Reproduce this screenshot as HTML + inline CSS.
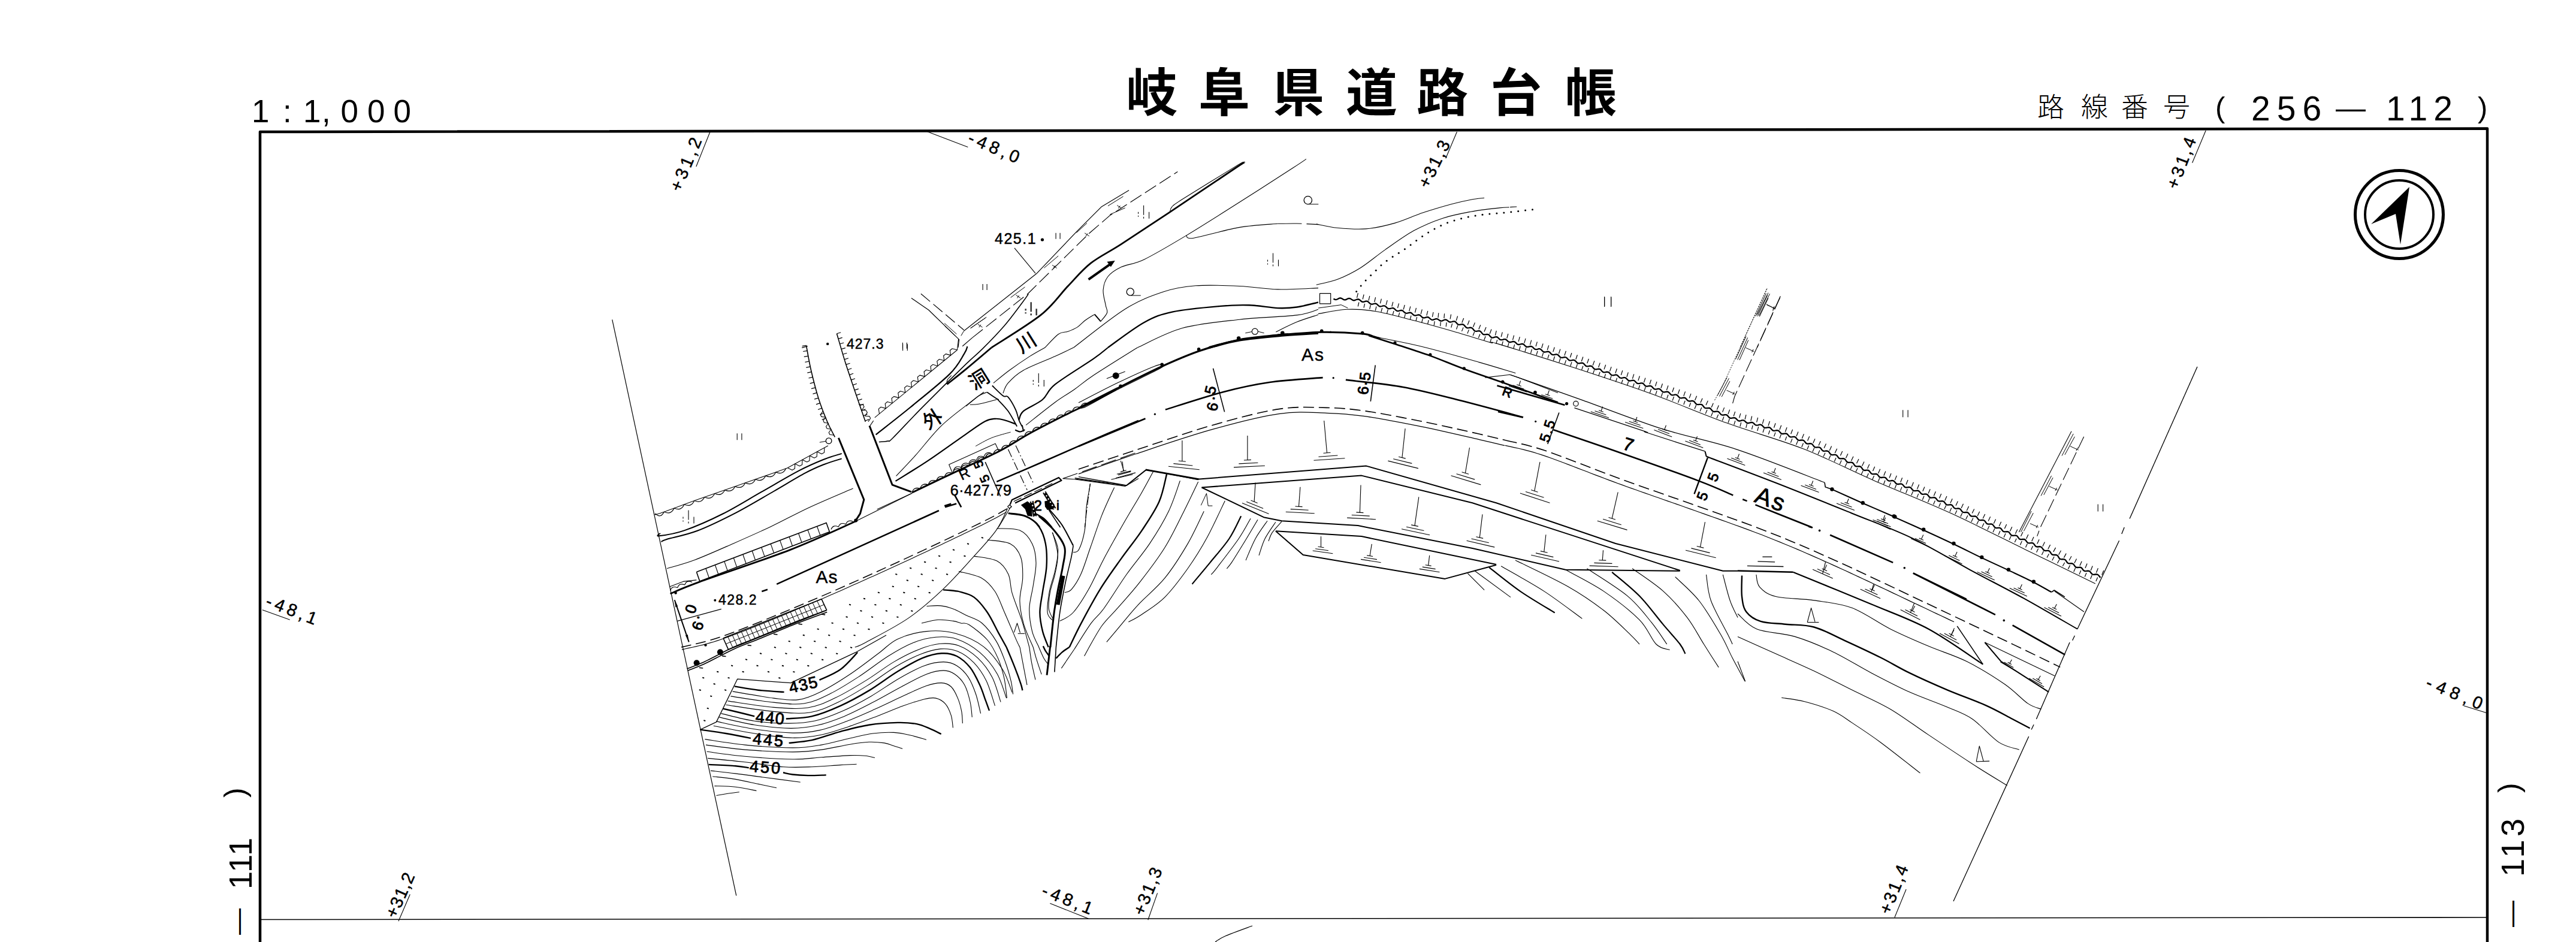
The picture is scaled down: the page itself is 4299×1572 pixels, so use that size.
<!DOCTYPE html>
<html lang="ja"><head><meta charset="utf-8"><title>岐阜県道路台帳</title>
<style>
html,body{margin:0;padding:0;background:#fff}
body{width:4299px;height:1572px;overflow:hidden}
svg{display:block}
svg path,svg circle{vector-effect:none}
text{font-family:"Liberation Sans","Noto Sans CJK JP",sans-serif;fill:#000}
</style></head><body>
<svg width="4299" height="1572" viewBox="0 0 4299 1572" fill="none" stroke="#000" stroke-width="1.3" stroke-linejoin="round">
<path d="M434 1572 L434 220 L4151 214.5 L4151 1572" stroke-width="4.5"/>
<path d="M436 1534.5 L4149 1531" stroke-width="1.6"/>
<text x="420 472 506 537 568.5 613 656.5" y="204" font-size="53" stroke="none">1:1,000</text>
<text x="1879 2000 2124 2246 2364 2487 2612" y="186" font-size="86" font-weight="bold" stroke="none">岐阜県道路台帳</text>
<text x="3400 3473 3540 3610" y="195" font-size="45" font-weight="300" stroke="none">路線番号</text>
<text x="3697" y="196" font-size="49" stroke="none">(</text>
<text x="3757" y="201" font-size="57" letter-spacing="11" stroke="none">256</text>
<text x="3898" y="197" font-size="50" stroke="none">—</text>
<text x="3982" y="201" font-size="57" letter-spacing="10" stroke="none">112</text>
<text x="4135" y="196" font-size="49" stroke="none">)</text>
<text x="412" y="1560" font-size="44" transform="rotate(-90 412 1560)" stroke="none">—</text>
<text x="420" y="1484" font-size="54" letter-spacing="2" transform="rotate(-90 420 1484)" stroke="none">111</text>
<text x="409" y="1331" font-size="50" transform="rotate(-90 409 1331)" stroke="none">)</text>
<text x="4206" y="1547" font-size="44" transform="rotate(-90 4206 1547)" stroke="none">—</text>
<text x="4212" y="1463" font-size="54" letter-spacing="5.5" transform="rotate(-90 4212 1463)" stroke="none">113</text>
<text x="4203.5" y="1323" font-size="50" transform="rotate(-90 4203.5 1323)" stroke="none">)</text>
<circle cx="4004" cy="358" r="73.5" stroke-width="5" fill="none"/>
<circle cx="4004" cy="358" r="57" stroke-width="4" fill="none"/>
<path d="M4021 312 L3957 374 L3998 357 L4006 408Z" fill="#000" stroke="none"/>
<path d="M2028 1572 C2030.8 1570.3 2034.7 1566.5 2045 1562 C2055.3 1557.5 2082.5 1547.8 2090 1545" stroke-width="1.2"/>
<path d="M1608.6 552.3 L1729.6 456.8 L1798.1 385.1 L1837.9 345.3 L1884.1 317.6" stroke-width="1.2"/>
<path d="M1619.7 547.5 L1645.2 530" stroke-width="1"/>
<path d="M1686.6 496.6 L1710.5 479" stroke-width="1"/>
<path d="M1742.4 447.2 L1766.2 427.1" stroke-width="1"/>
<path d="M1796.5 388.3 L1814 372.4" stroke-width="1"/>
<path d="M1849 343.7 L1874.5 327.8" stroke-width="1"/>
<path d="M1622.9 563.4 L1715.3 490.2 L1817.2 389.9 L1852.2 359.6 L1965.3 286.4" stroke-width="1.2" stroke-dasharray="22 7"/>
<path d="M1852.2 358 L1877.7 346.9" stroke-width="1"/>
<path d="M1631.8 541.1 L1639.5 546.2" stroke-width="1"/>
<path d="M1633.8 546.2 L1636.9 541.8" stroke-width="1"/>
<path d="M1695.5 492.4 L1703.2 497.5" stroke-width="1"/>
<path d="M1697.5 497.5 L1700.6 493.1" stroke-width="1"/>
<path d="M1756.1 442.4 L1763.7 447.5" stroke-width="1"/>
<path d="M1758 447.5 L1761.1 443.1" stroke-width="1"/>
<path d="M1810.2 388.9 L1817.8 394" stroke-width="1"/>
<path d="M1812.1 394 L1815.3 389.6" stroke-width="1"/>
<path d="M1864.3 342.7 L1872 347.8" stroke-width="1"/>
<path d="M1866.2 347.8 L1869.4 343.4" stroke-width="1"/>
<path d="M1521 497.5 L1549.7 517.3 L1600.6 566.6 L1599 580" stroke-width="1.2"/>
<path d="M1536.9 490.2 L1608.6 550.7" stroke-width="1.2" stroke-dasharray="20 7"/>
<path d="M1576.8 544.3 L1594.3 560.3" stroke-width="1"/>
<path d="M1608.6 552.3 L1603.8 560.3" stroke-width="1"/>
<path d="M1654.8 580 C1668.6 570.9 1716.3 542.3 1737.6 525.2 C1758.8 508.1 1768.4 491.8 1782.2 477.5 C1796 463.1 1805.5 450.9 1820.4 439.2 C1835.2 427.6 1849.6 421.5 1871.3 407.4 C1893.1 393.3 1919.1 376.1 1951 354.8 C1982.8 333.6 2041.5 294 2062.4 280 C2083.4 266 2074.4 272.6 2076.8 271.1" stroke-width="2.8"/>
<path d="M1952.5 353.9 C1953.1 352.5 1952.3 348.8 1955.7 345.3 C1959.2 341.7 1955.7 343.7 1973.2 332.5 C1990.8 321.4 2043.9 288.8 2060.8 278.4 C2077.7 268.1 2072.2 271.8 2074.5 270.4" stroke-width="1.1"/>
<path d="M1816.6 466.3 L1853.8 440.2" stroke-width="4"/>
<path d="M1860.8 435.1 L1847.5 436.7 L1853.8 445.6Z" fill="#000" stroke="none"/>
<path d="M2179.9 265.4 C2176.3 267.8 2176.5 268 2158 280 C2139.4 292 2098.5 318.5 2068.8 337.3 C2039.1 356.2 2006.2 377.1 1979.6 393.1 C1953.1 409 1927.6 424.1 1909.6 432.9 C1891.5 441.6 1881.4 440.8 1871.3 445.6 C1861.3 450.4 1854.1 455.2 1849 461.5 C1844 467.9 1841.7 475.9 1841.1 483.8 C1840.4 491.8 1844.2 502.9 1845.2 509.3 C1846.3 515.7 1848.8 517.5 1847.5 522 C1846.1 526.5 1838.7 534 1836.9 536.4" stroke-width="1.1"/>
<path d="M1836.9 536.4 L1826.8 524.6" stroke-width="2"/>
<path d="M1826.8 524.6 C1824.1 526.3 1815.6 531.2 1810.8 534.8 C1806.1 538.3 1802.9 542.8 1798.1 545.9 C1793.3 549 1787.5 551.3 1782.2 553.2 C1776.9 555.2 1772.6 553.2 1766.2 557.7 C1759.9 562.2 1747.7 576.3 1743.9 580" stroke-width="1.1"/>
<path d="M1979.6 393.1 C1981.7 393.7 1977.5 399.5 1992.4 397.2 C2007.2 394.9 2045.4 383.3 2068.8 379.4 C2092.1 375.4 2121.9 374.3 2132.5 373.3" stroke-width="1.1"/>
<path d="M2132.5 373.3 C2137.8 373.3 2153.1 372.8 2164.3 373 C2175.6 373.2 2194.1 374.3 2200 374.6" stroke-width="1.1" stroke-dasharray="40 8"/>
<path d="M1791.7 580 C1806.1 569.3 1852.8 531.2 1877.7 515.7 C1902.7 500.2 1921.8 493.5 1941.4 487 C1961 480.5 1974.3 478.4 1995.5 476.8 C2016.8 475.2 2046 476.4 2068.8 477.5 C2091.6 478.5 2110.6 482.3 2132.5 482.9 C2154.4 483.4 2188.7 481 2200 480.6" stroke-width="1.1"/>
<path d="M1849 580 C1859.1 573 1891.5 547.9 1909.6 538 C1927.6 528 1936.1 525 1957.3 520.4 C1978.6 515.9 2015.7 512.7 2036.9 510.9 C2058.2 509 2068.8 508.8 2084.7 509.3 C2100.6 509.8 2119.2 513.5 2132.5 514.1 C2145.8 514.6 2153.1 514.1 2164.3 512.5 C2175.6 510.9 2194.1 505.8 2200 504.5" stroke-width="2.4"/>
<path d="M1898.4 580 C1910.9 574.6 1944.9 555.3 1973.2 547.5 C2001.6 539.7 2036.9 536.8 2068.8 533.2 C2100.6 529.6 2142.5 528.7 2164.3 525.9 C2186.2 523 2194.1 517.9 2200 516.3" stroke-width="1.1"/>
<path d="M2017.8 580 C2026.3 577.9 2048.1 571 2068.8 567.6 C2089.5 564.2 2120.2 561.6 2142 559.6 C2163.9 557.7 2190.3 556.4 2200 555.8" stroke-width="4"/>
<circle cx="2067.2" cy="564.4" r="3.2" fill="#000" stroke="none"/>
<circle cx="2140.4" cy="555.8" r="3.2" fill="#000" stroke="none"/>
<path d="M2129.3 553.9 C2135.1 551.1 2152.5 542.1 2164.3 537.3 C2176.1 532.5 2194.1 527.2 2200 525.2" stroke-width="1.1"/>
<circle cx="2182.8" cy="334.1" r="6.7" stroke-width="1.3" fill="none"/>
<path d="M2184.4 340.8 L2200.3 340.8" stroke-width="1"/>
<circle cx="1886.3" cy="487" r="6.1" stroke-width="1.3" fill="none"/>
<path d="M1887.9 493.1 L1903.8 493.1" stroke-width="1"/>
<circle cx="2094.3" cy="553.2" r="5" stroke-width="1.2" fill="none"/>
<path d="M2078.3 555.8 L2088.9 553.6" stroke-width="1"/>
<path d="M2099.7 553.2 L2109.6 555.8" stroke-width="1"/>
<path d="M1908.6 342.8 L1908.6 358.8" stroke-width="1.1"/>
<path d="M1899.6 353.8 L1899.6 361.8" stroke-width="1.1" stroke-dasharray="3 3"/>
<path d="M1917.6 353.8 L1917.6 364.8" stroke-width="1.1"/>
<path d="M1908.6 361.8 L1908.6 364.8" stroke-width="1.1"/>
<path d="M2124.5 422.4 L2124.5 438.4" stroke-width="1.1"/>
<path d="M2115.5 433.4 L2115.5 441.4" stroke-width="1.1" stroke-dasharray="3 3"/>
<path d="M2133.5 433.4 L2133.5 444.4" stroke-width="1.1"/>
<path d="M2124.5 441.4 L2124.5 444.4" stroke-width="1.1"/>
<path d="M1720.1 504.3 L1720.1 520.3" stroke-width="1.1"/>
<path d="M1711.1 515.3 L1711.1 523.3" stroke-width="1.1" stroke-dasharray="3 3"/>
<path d="M1729.1 515.3 L1729.1 526.3" stroke-width="1.1"/>
<path d="M1720.1 523.3 L1720.1 526.3" stroke-width="1.1"/>
<path d="M1762.1 388.7 L1762.1 398.7" stroke-width="1.1"/>
<path d="M1769.1 388.7 L1769.1 398.7" stroke-width="1.1"/>
<path d="M1640.1 474 L1640.1 484" stroke-width="1.1"/>
<path d="M1647.1 474 L1647.1 484" stroke-width="1.1"/>
<path d="M1506.4 571.8 L1506.4 581.8" stroke-width="1.1"/>
<path d="M1513.4 571.8 L1513.4 581.8" stroke-width="1.1"/>
<text x="1660" y="407" font-size="25" letter-spacing="1.5" stroke="#000" stroke-width="0.5">425.1</text>
<circle cx="1739.5" cy="400" r="2.6" fill="#000" stroke="none"/>
<path d="M1693 413.8 L1728 456.1" stroke-width="1.1"/>
<path d="M2196.8 373.9 C2202.7 375 2218 379 2231.8 380.3 C2245.6 381.6 2263.7 383.2 2279.6 381.9 C2295.5 380.6 2311.5 376.9 2327.4 372.4 C2343.3 367.8 2359.2 360.1 2375.2 354.8 C2391.1 349.5 2409.7 344.1 2422.9 340.5 C2436.2 336.9 2445.8 334.9 2454.8 333.2 C2463.8 331.5 2473.4 330.8 2477.1 330.3" stroke-width="1.1"/>
<path d="M2196.8 475.2 C2202.7 473.7 2219.6 471 2231.8 466.3 C2244.1 461.6 2256.8 455.4 2270.1 447.2 C2283.3 439 2296.6 427.3 2311.5 416.9 C2326.3 406.6 2343.3 393.9 2359.2 385.1 C2375.2 376.3 2391.1 369.7 2407 364.4 C2422.9 359.1 2438.9 356.2 2454.8 353.2 C2470.7 350.3 2491.9 348.1 2502.5 346.9 C2513.2 345.7 2515.8 346.1 2518.5 345.9" stroke-width="1.1"/>
<path d="M2520.1 345.6 L2531.2 345" stroke-width="1.1"/>
<circle cx="2263.7" cy="486.4" r="1.5" fill="#000" stroke="none"/>
<circle cx="2271.2" cy="477" r="1.5" fill="#000" stroke="none"/>
<circle cx="2279.2" cy="468.1" r="1.5" fill="#000" stroke="none"/>
<circle cx="2287.7" cy="459.6" r="1.5" fill="#000" stroke="none"/>
<circle cx="2296.3" cy="451.2" r="1.5" fill="#000" stroke="none"/>
<circle cx="2304.9" cy="442.8" r="1.5" fill="#000" stroke="none"/>
<circle cx="2314.2" cy="435.2" r="1.5" fill="#000" stroke="none"/>
<circle cx="2324.1" cy="428.6" r="1.5" fill="#000" stroke="none"/>
<circle cx="2334.3" cy="422.2" r="1.5" fill="#000" stroke="none"/>
<circle cx="2344.4" cy="415.7" r="1.5" fill="#000" stroke="none"/>
<circle cx="2354.1" cy="408.7" r="1.5" fill="#000" stroke="none"/>
<circle cx="2363.7" cy="401.4" r="1.5" fill="#000" stroke="none"/>
<circle cx="2373.6" cy="394.6" r="1.5" fill="#000" stroke="none"/>
<circle cx="2383.6" cy="388.1" r="1.5" fill="#000" stroke="none"/>
<circle cx="2394" cy="382.1" r="1.5" fill="#000" stroke="none"/>
<circle cx="2404.7" cy="376.5" r="1.5" fill="#000" stroke="none"/>
<circle cx="2415.6" cy="371.7" r="1.5" fill="#000" stroke="none"/>
<circle cx="2427" cy="367.9" r="1.5" fill="#000" stroke="none"/>
<circle cx="2438.6" cy="364.8" r="1.5" fill="#000" stroke="none"/>
<circle cx="2450.3" cy="362.1" r="1.5" fill="#000" stroke="none"/>
<circle cx="2462.1" cy="360" r="1.5" fill="#000" stroke="none"/>
<circle cx="2474" cy="358.3" r="1.5" fill="#000" stroke="none"/>
<circle cx="2485.9" cy="357.1" r="1.5" fill="#000" stroke="none"/>
<circle cx="2497.9" cy="356.1" r="1.5" fill="#000" stroke="none"/>
<circle cx="2509.8" cy="355" r="1.5" fill="#000" stroke="none"/>
<circle cx="2521.8" cy="353.8" r="1.5" fill="#000" stroke="none"/>
<circle cx="2533.7" cy="352.5" r="1.5" fill="#000" stroke="none"/>
<circle cx="2545.6" cy="351.1" r="1.5" fill="#000" stroke="none"/>
<circle cx="2557.5" cy="349.7" r="1.5" fill="#000" stroke="none"/>
<path d="M2202.5 489.6 L2220.7 489.6 L2220.7 506.8 L2202.5 506.8 L2202.5 489.6" stroke-width="1.2"/>
<path d="M2225.5 498.5 L2227.4 499.7 L2229.4 500.1 L2231.5 499.5 L2233.5 498.4 L2235.5 497.5 L2237.5 497.4 L2239.5 498.2 L2241.5 499.5 L2243.4 500.4 L2245.4 500.4 L2247.5 499.4 L2249.5 498.3 L2251.5 497.8 L2253.5 498.3 L2255.5 499.6 L2257.4 500.8 L2259.3 501.4 L2261.3 501 L2263.5 500 L2265.6 499.3 L2267.6 499.5 L2269.5 500.7 L2271.2 502.3 L2272.9 503.5 L2274.9 503.8 L2277.1 503.4 L2279.3 502.7 L2281.4 502.6 L2283.2 503.5 L2284.9 505.1 L2286.5 506.7 L2288.3 507.6 L2290.4 507.6 L2292.7 507 L2294.8 506.5 L2296.8 506.9 L2298.5 508.2 L2300.2 509.8 L2301.9 511.1 L2303.9 511.5 L2306.1 511 L2308.3 510.4 L2310.4 510.3 L2312.2 511.2 L2313.9 512.8 L2315.5 514.3 L2317.4 515.2 L2319.5 515.1 L2321.7 514.5 L2323.9 514 L2325.8 514.4 L2327.6 515.7 L2329.2 517.4 L2330.9 518.7 L2332.9 519.1 L2335.1 518.6 L2337.3 518 L2339.4 517.9 L2341.3 518.8 L2342.9 520.4 L2344.6 521.9 L2346.4 522.8 L2348.5 522.7 L2350.7 522.1 L2352.9 521.6 L2354.9 522 L2356.6 523.3 L2358.2 525 L2360 526.2 L2361.9 526.6 L2364.1 526.2 L2366.4 525.5 L2368.5 525.5 L2370.3 526.4 L2371.9 528 L2373.6 529.6 L2375.4 530.4 L2377.5 530.3 L2379.7 529.7 L2381.9 529.2 L2383.9 529.5 L2385.6 530.8 L2387.3 532.4 L2389.1 533.6 L2391.1 533.9 L2393.3 533.2 L2395.4 532.4 L2397.5 532 L2399.4 532.6 L2401.3 533.9 L2403.2 535.2 L2405.1 535.7 L2407.2 535.3 L2409.3 534.3 L2411.4 533.5 L2413.4 533.6 L2415.3 534.7 L2417.1 536.2 L2418.9 537.3 L2420.9 537.5 L2423 537 L2425.2 536.4 L2427.4 536.3 L2429.2 537.3 L2430.8 539 L2432.3 540.7 L2434 541.7 L2436.1 541.8 L2438.4 541.4 L2440.6 541.2 L2442.5 541.8 L2444.1 543.3 L2445.5 545.2 L2447.1 546.7 L2449 547.3 L2451.2 547.1 L2453.5 546.7 L2455.6 546.9 L2457.3 547.9 L2458.8 549.7 L2460.2 551.5 L2461.9 552.6 L2464 552.8 L2466.3 552.4 L2468.5 552.2 L2470.4 552.9 L2472 554.4 L2473.4 556.3 L2474.9 557.8 L2476.8 558.4 L2479 558.3 L2481.3 557.9 L2483.4 558.1 L2485.1 559.1 L2486.6 560.9 L2488.1 562.6 L2490 563.6 L2492.2 563.4 L2494.4 562.6 L2496.6 562.1 L2498.6 562.5 L2500.3 563.8 L2501.9 565.5 L2503.6 566.8 L2505.6 567.2 L2507.8 566.8 L2510 566.2 L2512.1 566.1 L2513.9 567 L2515.6 568.6 L2517.2 570.2 L2519.1 571 L2521.1 571 L2523.4 570.3 L2525.6 569.9 L2527.5 570.3 L2529.3 571.6 L2530.9 573.3 L2532.6 574.6 L2534.6 575 L2536.7 574.6 L2539 574 L2541.1 573.9 L2542.9 574.8 L2544.5 576.4 L2546.2 578 L2548 578.9 L2550.1 578.9 L2552.3 578.3 L2554.5 577.9 L2556.5 578.3 L2558.2 579.6 L2559.8 581.4 L2561.4 582.7 L2563.4 583.2 L2565.6 582.8 L2567.8 582.2 L2569.9 582.2 L2571.7 583.2 L2573.3 584.9 L2574.9 586.5 L2576.7 587.5 L2578.8 587.5 L2581 587 L2583.3 586.6 L2585.2 587.1 L2586.9 588.5 L2588.4 590.3 L2590 591.7 L2592 592.2 L2594.2 591.8 L2596.5 591.3 L2598.5 591.4 L2600.3 592.4 L2601.9 594.1 L2603.4 595.7 L2605.2 596.7 L2607.3 596.8 L2609.6 596.3 L2611.8 596 L2613.7 596.5 L2615.3 597.9 L2616.9 599.7 L2618.5 601.1 L2620.4 601.6 L2622.6 601.3 L2624.9 600.8 L2627 600.9 L2628.8 601.9 L2630.3 603.6 L2631.8 605.3 L2633.6 606.3 L2635.7 606.4 L2638 605.9 L2640.2 605.6 L2642.1 606.2 L2643.7 607.6 L2645.2 609.4 L2646.8 610.9 L2648.8 611.4 L2651 611.2 L2653.3 610.7 L2655.4 610.8 L2657.1 611.8 L2658.6 613.5 L2660.1 615.3 L2661.9 616.3 L2664 616.4 L2666.3 615.9 L2668.5 615.7 L2670.4 616.2 L2672 617.7 L2673.5 619.5 L2675.1 620.9 L2677 621.4 L2679.3 621.2 L2681.5 620.7 L2683.6 620.8 L2685.4 621.8 L2686.9 623.5 L2688.5 625.2 L2690.2 626.2 L2692.3 626.3 L2694.6 625.8 L2696.8 625.4 L2698.7 626 L2700.4 627.4 L2701.9 629.1 L2703.6 630.5 L2705.5 631 L2707.7 630.7 L2710 630.2 L2712.1 630.2 L2713.9 631.2 L2715.4 632.9 L2717 634.5 L2718.8 635.5 L2720.9 635.5 L2723.1 635 L2725.3 634.7 L2727.3 635.1 L2728.9 636.5 L2730.5 638.3 L2732.1 639.7 L2734.1 640.2 L2736.3 639.9 L2738.6 639.3 L2740.6 639.4 L2742.4 640.3 L2744 642 L2745.5 643.7 L2747.3 644.7 L2749.4 644.7 L2751.7 644.2 L2753.9 643.9 L2755.8 644.5 L2757.5 645.9 L2759 647.7 L2760.6 649.1 L2762.5 649.6 L2764.7 649.3 L2767 648.8 L2769.1 648.9 L2770.9 649.9 L2772.4 651.6 L2774 653.3 L2775.7 654.3 L2777.8 654.4 L2780.1 653.9 L2782.3 653.6 L2784.2 654.1 L2785.9 655.6 L2787.4 657.4 L2789 658.8 L2790.9 659.3 L2793.1 659.1 L2795.4 658.6 L2797.5 658.7 L2799.2 659.7 L2800.8 661.4 L2802.3 663.1 L2804 664.2 L2806.1 664.3 L2808.4 663.8 L2810.6 663.6 L2812.5 664.2 L2814.1 665.6 L2815.6 667.5 L2817.2 668.9 L2819.1 669.5 L2821.3 669.3 L2823.6 668.9 L2825.7 669.1 L2827.4 670.2 L2828.8 672 L2830.2 673.8 L2831.9 674.9 L2834 675.2 L2836.3 674.9 L2838.5 674.8 L2840.4 675.4 L2841.9 677 L2843.3 678.9 L2844.8 680.5 L2846.6 681.2 L2848.9 681.1 L2851.2 680.8 L2853.2 681 L2854.9 682.2 L2856.3 684 L2857.8 685.8 L2859.5 686.9 L2861.6 687 L2863.9 686.7 L2866.1 686.5 L2868 687.1 L2869.5 688.6 L2871 690.5 L2872.5 692 L2874.4 692.6 L2876.6 692.5 L2878.9 692.1 L2881 692.2 L2882.7 693.3 L2884.2 695 L2885.7 696.7 L2887.5 697.8 L2889.6 697.9 L2891.9 697.4 L2894.1 697.1 L2896 697.6 L2897.7 699 L2899.2 700.7 L2900.9 702.1 L2902.9 702.5 L2905.1 702.1 L2907.3 701.4 L2909.4 701.3 L2911.2 702.2 L2912.9 703.7 L2914.6 705.3 L2916.5 706.1 L2918.5 706 L2920.8 705.3 L2922.9 704.8 L2924.9 705.1 L2926.7 706.4 L2928.3 708.1 L2930 709.4 L2932 709.7 L2934.2 709.3 L2936.4 708.7 L2938.5 708.7 L2940.4 709.6 L2942 711.2 L2943.5 712.9 L2945.3 713.9 L2947.4 713.9 L2949.7 713.4 L2951.9 713.1 L2953.8 713.7 L2955.4 715.1 L2956.9 716.9 L2958.5 718.3 L2960.5 718.9 L2962.7 718.6 L2965 718.2 L2967.1 718.3 L2968.8 719.3 L2970.3 721 L2971.8 722.8 L2973.5 723.8 L2975.6 724 L2977.9 723.6 L2980.1 723.3 L2982 723.9 L2983.6 725.4 L2985.1 727.3 L2986.6 728.7 L2988.5 729.3 L2990.8 729.2 L2993.1 728.8 L2995.1 728.9 L2996.9 730 L2998.3 731.8 L2999.7 733.6 L3001.5 734.7 L3003.5 734.9 L3005.8 734.5 L3008.1 734.4 L3010 735 L3011.5 736.5 L3012.9 738.4 L3014.4 739.9 L3016.3 740.6 L3018.5 740.5 L3020.8 740.2 L3022.9 740.4 L3024.6 741.6 L3026 743.4 L3027.4 745.2 L3029 746.4 L3031.1 746.6 L3033.4 746.4 L3035.6 746.3 L3037.5 747 L3039 748.6 L3040.3 750.5 L3041.8 752.1 L3043.7 752.8 L3045.9 752.7 L3048.2 752.5 L3050.3 752.8 L3052 753.9 L3053.3 755.8 L3054.6 757.6 L3056.3 758.8 L3058.4 759.1 L3060.7 758.9 L3062.9 758.8 L3064.8 759.5 L3066.3 761.1 L3067.6 763.1 L3069 764.7 L3070.9 765.4 L3073.1 765.3 L3075.4 765.1 L3077.5 765.4 L3079.2 766.6 L3080.5 768.4 L3081.8 770.3 L3083.5 771.5 L3085.5 771.8 L3087.8 771.6 L3090.1 771.6 L3091.9 772.4 L3093.4 774 L3094.6 776 L3096.1 777.6 L3097.9 778.4 L3100.1 778.4 L3102.5 778.2 L3104.5 778.5 L3106.2 779.7 L3107.5 781.6 L3108.8 783.5 L3110.4 784.7 L3112.5 785 L3114.8 784.7 L3117 784.7 L3118.9 785.4 L3120.4 787 L3121.7 788.9 L3123.2 790.5 L3125.1 791.2 L3127.3 791.1 L3129.6 790.8 L3131.7 791 L3133.4 792.1 L3134.8 793.9 L3136.2 795.7 L3137.9 796.8 L3140 797 L3142.3 796.7 L3144.6 796.5 L3146.5 797.1 L3148 798.6 L3149.4 800.5 L3151 802 L3152.9 802.6 L3155.1 802.4 L3157.4 802 L3159.5 802.2 L3161.2 803.2 L3162.7 805 L3164.1 806.8 L3165.9 807.8 L3168 808 L3170.3 807.6 L3172.5 807.4 L3174.4 808 L3176 809.5 L3177.4 811.4 L3178.9 812.9 L3180.8 813.5 L3183.1 813.3 L3185.4 813 L3187.4 813.1 L3189.2 814.2 L3190.6 816 L3192 817.8 L3193.7 818.9 L3195.8 819.1 L3198.1 818.8 L3200.3 818.6 L3202.2 819.3 L3203.8 820.8 L3205.1 822.7 L3206.7 824.2 L3208.6 824.9 L3210.8 824.7 L3213.1 824.4 L3215.2 824.6 L3216.9 825.7 L3218.3 827.5 L3219.7 829.3 L3221.4 830.5 L3223.5 830.7 L3225.8 830.3 L3228 830.2 L3229.9 830.9 L3231.4 832.4 L3232.8 834.3 L3234.3 835.9 L3236.2 836.5 L3238.4 836.4 L3240.7 836.1 L3242.8 836.4 L3244.5 837.5 L3245.9 839.3 L3247.2 841.2 L3248.9 842.3 L3251 842.6 L3253.3 842.3 L3255.5 842.2 L3257.4 842.9 L3258.9 844.5 L3260.2 846.5 L3261.7 848 L3263.5 848.8 L3265.8 848.7 L3268.1 848.5 L3270.2 848.8 L3271.8 850 L3273.1 851.8 L3274.5 853.7 L3276.1 854.9 L3278.2 855.2 L3280.5 855 L3282.7 854.9 L3284.6 855.7 L3286 857.3 L3287.3 859.3 L3288.8 860.9 L3290.6 861.6 L3292.9 861.6 L3295.2 861.4 L3297.2 861.7 L3298.9 862.9 L3300.2 864.8 L3301.5 866.7 L3303.1 867.9 L3305.2 868.2 L3307.5 868 L3309.8 868 L3311.6 868.7 L3313.1 870.3 L3314.4 872.3 L3315.8 873.9 L3317.7 874.6 L3319.9 874.6 L3322.2 874.4 L3324.3 874.7 L3325.9 875.9 L3327.3 877.7 L3328.6 879.6 L3330.3 880.8 L3332.3 881.1 L3334.6 880.8 L3336.9 880.8 L3338.7 881.5 L3340.2 883.1 L3341.5 885.1 L3343 886.7 L3344.8 887.4 L3347.1 887.3 L3349.4 887.1 L3351.4 887.4 L3353.1 888.6 L3354.4 890.5 L3355.8 892.3 L3357.4 893.5 L3359.5 893.8 L3361.8 893.6 L3364 893.5 L3365.9 894.2 L3367.4 895.8 L3368.7 897.8 L3370.1 899.4 L3372 900.1 L3374.2 900 L3376.6 899.8 L3378.6 900 L3380.3 901.2 L3381.7 903.1 L3383 904.9 L3384.7 906.1 L3386.8 906.3 L3389.1 906.1 L3391.3 906 L3393.2 906.7 L3394.7 908.3 L3396 910.2 L3397.4 911.8 L3399.3 912.5 L3401.5 912.5 L3403.9 912.2 L3405.9 912.6 L3407.6 913.8 L3408.9 915.6 L3410.2 917.5 L3411.8 918.7 L3413.9 919.1 L3416.2 918.9 L3418.4 918.9 L3420.3 919.8 L3421.7 921.4 L3422.9 923.4 L3424.2 925.1 L3426 925.9 L3428.3 926 L3430.6 926 L3432.6 926.4 L3434.2 927.7 L3435.4 929.6 L3436.6 931.6 L3438.2 932.9 L3440.3 933.3 L3442.6 933.2 L3444.8 933.3 L3446.6 934.2 L3448 935.8 L3449.2 937.8 L3450.6 939.5 L3452.4 940.3 L3454.6 940.4 L3456.9 940.2 L3459 940.6 L3460.6 941.8 L3461.9 943.7 L3463.2 945.6 L3464.9 946.8 L3467 947 L3469.3 946.8 L3471.5 946.7 L3473.4 947.4 L3474.9 948.9 L3476.2 950.9 L3477.8 952.4 L3479.7 953.1 L3481.9 952.9 L3484.2 952.6 L3486.3 952.8 L3488 953.9 L3489.4 955.7 L3490.8 957.5 L3492.5 958.6 L3494.6 958.8 L3496.9 958.5 L3499.1 958.3 L3501 959 L3502.6 960.5 L3504 962.4 L3505.5 963.9" stroke-width="2.3"/>
<path d="M2200 523.6 C2208 522.4 2231.8 517 2247.8 516.3 C2263.7 515.6 2277 516.4 2295.5 519.5 C2314.1 522.6 2338 529.3 2359.2 534.8 C2380.5 540.2 2401.7 546.2 2422.9 552.3 C2444.2 558.4 2473.8 567.8 2486.6 571.4 C2499.5 575 2476.5 566.9 2500 573.9 C2523.5 581 2584.9 600 2627.4 613.8 C2669.9 627.6 2712.3 641.4 2754.8 656.8 C2797.2 672.1 2839.7 690.7 2882.2 706.1 C2924.6 721.5 2968.7 733.1 3009.6 749.1 C3050.4 765.1 3086.5 784.1 3127.4 801.9 C3168.3 819.7 3212.3 836.7 3254.8 856.1 C3297.2 875.4 3341.8 898.5 3382.2 918.2 C3422.5 937.8 3477.7 964.6 3496.8 973.9" stroke-width="1.1"/>
<path d="M2264.5 497 L2266.4 489.2 M2274.2 499.3 L2276.1 491.5 M2284 501.6 L2285.8 493.8 M2293.7 504 L2295.6 496.2 M2303.4 506.4 L2305.4 498.7 M2313.1 508.9 L2315.2 501.2 M2322.8 511.5 L2324.8 503.8 M2332.5 514 L2334.5 506.3 M2342.2 516.5 L2344.2 508.8 M2351.8 519.1 L2353.8 511.3 M2361.5 521.6 L2363.5 513.8 M2371.2 524.1 L2373.3 516.4 M2380.8 526.7 L2382.8 518.9 M2390.4 528.8 L2392 521 M2400 530.3 L2400.8 522.3 M2409.9 531.1 L2410.6 523.2 M2420.1 532.5 L2421.6 524.6 M2430.2 535.1 L2432.6 527.5 M2439.8 538.5 L2442.7 531 M2449.2 542.2 L2452.1 534.8 M2458.5 545.8 L2461.4 538.4 M2467.8 549.6 L2470.8 542.2 M2477 553.4 L2480.1 546 M2486.2 557 L2489 549.5 M2495.4 559.6 L2497.3 551.8 M2505.2 562.2 L2507.3 554.4 M2514.8 564.7 L2516.9 557 M2524.5 567.3 L2526.6 559.6 M2534.2 569.9 L2536.3 562.2 M2543.8 572.6 L2546 564.9 M2553.5 575.3 L2555.7 567.6 M2563.1 578.1 L2565.4 570.4 M2572.7 581 L2575.1 573.4 M2582.3 584 L2584.7 576.4 M2591.8 587.1 L2594.3 579.5 M2601.4 590.2 L2603.9 582.6 M2610.9 593.4 L2613.4 585.8 M2620.4 596.5 L2622.9 589 M2629.8 599.7 L2632.4 592.2 M2639.3 603 L2641.9 595.5 M2648.8 606.3 L2651.4 598.8 M2658.2 609.7 L2660.9 602.1 M2667.6 613 L2670.3 605.5 M2677 616.4 L2679.7 608.8 M2686.5 619.6 L2689.1 612.1 M2695.9 622.8 L2698.4 615.2 M2705.4 625.9 L2707.8 618.3 M2714.9 629 L2717.3 621.4 M2724.4 632 L2726.8 624.4 M2733.9 635.1 L2736.4 627.5 M2743.5 638.2 L2745.9 630.6 M2753 641.3 L2755.5 633.7 M2762.5 644.5 L2765 636.9 M2771.9 647.7 L2774.5 640.2 M2781.4 651 L2784 643.4 M2790.9 654.2 L2793.5 646.7 M2800.3 657.6 L2803 650 M2809.8 660.9 L2812.5 653.4 M2819.2 664.4 L2822 656.9 M2828.6 668.1 L2831.6 660.7 M2837.9 672.1 L2841.1 664.7 M2847 676.1 L2850.3 668.8 M2856.1 680.1 L2859.3 672.7 M2865.3 683.8 L2868.3 676.4 M2874.6 687.6 L2877.6 680.1 M2883.9 691.1 L2886.7 683.6 M2893.2 694.5 L2895.7 686.9 M2902.6 697.4 L2904.8 689.8 M2912.1 699.9 L2914 692.2 M2921.8 702.3 L2923.7 694.5 M2931.6 704.7 L2933.6 696.9 M2941.3 707.4 L2943.6 699.7 M2951 710.5 L2953.5 702.9 M2960.5 713.8 L2963.1 706.2 M2969.9 717.2 L2972.7 709.7 M2979.3 720.7 L2982.1 713.2 M2988.7 724.3 L2991.6 716.8 M2998 727.9 L3001 720.5 M3007.3 731.7 L3010.4 724.3 M3016.6 735.5 L3019.7 728.2 M3025.8 739.5 L3029 732.2 M3035 743.6 L3038.3 736.3 M3044.1 747.7 L3047.5 740.4 M3053.2 751.9 L3056.6 744.6 M3062.3 756.1 L3065.7 748.8 M3071.4 760.3 L3074.7 753.1 M3080.5 764.5 L3083.9 757.3 M3089.5 768.9 L3093 761.7 M3098.5 773.3 L3102 766.1 M3107.5 777.7 L3111 770.5 M3116.5 782 L3119.8 774.7 M3125.5 786.1 L3128.7 778.8 M3134.6 790 L3137.7 782.7 M3143.8 793.8 L3146.8 786.4 M3153.1 797.5 L3156 790 M3162.4 801.1 L3165.3 793.7 M3171.7 804.7 L3174.6 797.3 M3181 808.4 L3184 801 M3190.3 812.2 L3193.4 804.8 M3199.6 816 L3202.6 808.6 M3208.8 819.8 L3211.9 812.4 M3218.1 823.6 L3221.2 816.3 M3227.3 827.5 L3230.4 820.2 M3236.5 831.5 L3239.7 824.1 M3245.7 835.5 L3248.9 828.1 M3254.9 839.5 L3258.2 832.2 M3264 843.7 L3267.4 836.4 M3273.1 847.9 L3276.5 840.7 M3282.2 852.2 L3285.6 845 M3291.2 856.6 L3294.7 849.4 M3300.2 860.9 L3303.7 853.7 M3309.2 865.3 L3312.7 858 M3318.2 869.6 L3321.6 862.3 M3327.2 873.8 L3330.6 866.6 M3336.3 878.1 L3339.7 870.8 M3345.3 882.3 L3348.7 875.1 M3354.4 886.6 L3357.8 879.3 M3363.4 890.8 L3366.8 883.5 M3372.5 895 L3375.9 887.8 M3381.6 899.2 L3384.9 891.9 M3390.7 903.3 L3394 896 M3399.8 907.5 L3403.1 900.2 M3408.9 911.7 L3412.4 904.5 M3417.9 916.2 L3421.6 909.1 M3426.8 920.9 L3430.6 913.9 M3435.6 925.7 L3439.5 918.7 M3444.4 930.6 L3448.2 923.6 M3453.1 935.3 L3456.9 928.2 M3461.9 939.8 L3465.5 932.6 M3470.9 944 L3474.2 936.7 M3480 948 L3483.1 940.6 M3489.2 951.9 L3492.2 944.5 M3498.4 955.7 L3501.4 948.3 M3507.7 959.5 L3510.8 952.1" stroke-width="1.2"/>
<path d="M2267.9 504.5 L2266.3 511.3 M2277.6 506.8 L2276 513.6 M2287.3 509.1 L2285.7 515.9 M2297 511.5 L2295.3 518.3 M2306.7 514 L2304.9 520.7 M2316.3 516.5 L2314.5 523.3 M2326 519 L2324.2 525.8 M2335.7 521.6 L2333.9 528.3 M2345.3 524.1 L2343.6 530.9 M2355 526.6 L2353.3 533.4 M2364.7 529.1 L2362.9 535.9 M2374.4 531.7 L2372.6 538.5 M2384.2 534.2 L2382.6 541 M2394.2 536.1 L2393.2 543 M2404.3 537.2 L2403.7 544.2 M2414.1 538.1 L2413.2 545.1 M2423.6 539.9 L2421.8 546.7 M2432.9 542.9 L2430.5 549.5 M2442.1 546.4 L2439.5 552.9 M2451.4 550.1 L2448.9 556.6 M2460.7 553.7 L2458.1 560.2 M2470 557.5 L2467.3 564 M2479.2 561.3 L2476.6 567.8 M2488.8 564.8 L2486.8 571.5 M2498.7 567.1 L2496.8 573.9 M2508.3 569.7 L2506.5 576.5 M2518 572.3 L2516.2 579.1 M2527.7 574.9 L2525.8 581.7 M2537.3 577.5 L2535.4 584.3 M2546.9 580.2 L2545 586.9 M2556.5 582.9 L2554.5 589.6 M2566.1 585.8 L2564 592.5 M2575.6 588.7 L2573.5 595.4 M2585.1 591.7 L2582.9 598.4 M2594.6 594.8 L2592.4 601.5 M2604.1 597.9 L2601.9 604.6 M2613.5 601.1 L2611.3 607.7 M2623 604.3 L2620.8 610.9 M2632.5 607.5 L2630.2 614.1 M2641.9 610.8 L2639.6 617.4 M2651.3 614.1 L2649 620.7 M2660.7 617.5 L2658.4 624.1 M2670.2 620.8 L2667.8 627.4 M2679.6 624.1 L2677.3 630.7 M2689.1 627.4 L2686.8 634 M2698.6 630.6 L2696.4 637.2 M2708.1 633.7 L2706 640.3 M2717.7 636.7 L2715.5 643.4 M2727.2 639.8 L2725.1 646.4 M2736.7 642.8 L2734.5 649.5 M2746.2 645.9 L2744 652.6 M2755.7 649.1 L2753.4 655.7 M2765.1 652.3 L2762.9 658.9 M2774.6 655.5 L2772.3 662.1 M2784 658.7 L2781.7 665.4 M2793.5 662 L2791.1 668.6 M2802.9 665.4 L2800.5 672 M2812.2 668.8 L2809.8 675.3 M2821.5 672.3 L2819 678.8 M2830.7 676 L2828 682.5 M2839.8 680 L2837 686.4 M2849 684.1 L2846.2 690.5 M2858.3 688 L2855.7 694.5 M2867.6 691.7 L2864.9 698.2 M2876.9 695.4 L2874.4 702 M2886.3 699 L2884 705.6 M2895.9 702.2 L2893.8 708.9 M2905.7 705 L2903.9 711.8 M2915.4 707.4 L2913.8 714.2 M2925.1 709.8 L2923.5 716.5 M2934.7 712.2 L2932.8 719 M2944.2 715.1 L2942 721.8 M2953.6 718.3 L2951.3 724.9 M2963 721.6 L2960.6 728.2 M2972.4 725 L2969.9 731.6 M2981.7 728.5 L2979.2 735.1 M2991 732.1 L2988.4 738.7 M3000.3 735.8 L2997.6 742.3 M3009.5 739.6 L3006.8 746.1 M3018.7 743.5 L3015.9 749.9 M3027.8 747.5 L3024.9 753.9 M3036.9 751.6 L3034 757.9 M3046 755.7 L3043 762.1 M3055 759.9 L3052.1 766.2 M3064.1 764.1 L3061.2 770.5 M3073.2 768.3 L3070.2 774.7 M3082.2 772.6 L3079.1 778.9 M3091.2 776.9 L3088.1 783.2 M3100.1 781.3 L3097 787.6 M3109.2 785.7 L3106.1 792 M3118.3 790 L3115.4 796.3 M3127.5 794.1 L3124.7 800.5 M3136.7 798 L3134.1 804.4 M3146 801.7 L3143.5 808.2 M3155.4 805.4 L3152.8 811.9 M3164.7 809 L3162.1 815.5 M3174 812.6 L3171.4 819.1 M3183.3 816.3 L3180.7 822.8 M3192.5 820.1 L3189.8 826.5 M3201.7 823.9 L3199.1 830.4 M3211 827.7 L3208.3 834.2 M3220.2 831.6 L3217.5 838 M3229.4 835.5 L3226.6 841.9 M3238.5 839.4 L3235.7 845.8 M3247.7 843.4 L3244.8 849.8 M3256.8 847.5 L3253.9 853.9 M3265.8 851.7 L3262.9 858 M3274.8 855.9 L3271.8 862.3 M3283.9 860.3 L3280.8 866.6 M3292.9 864.6 L3289.8 870.9 M3301.9 868.9 L3298.8 875.3 M3310.9 873.3 L3307.9 879.6 M3319.9 877.6 L3316.9 883.9 M3329 881.8 L3326 888.2 M3338 886.1 L3335.1 892.4 M3347.1 890.3 L3344.1 896.7 M3356.2 894.6 L3353.2 900.9 M3365.2 898.8 L3362.3 905.1 M3374.3 903 L3371.4 909.4 M3383.4 907.2 L3380.5 913.5 M3392.5 911.3 L3389.6 917.6 M3401.6 915.5 L3398.6 921.8 M3410.5 919.8 L3407.4 926.1 M3419.4 924.3 L3416.1 930.5 M3428.1 929 L3424.8 935.2 M3436.9 933.8 L3433.5 940 M3445.7 938.7 L3442.3 944.8 M3454.6 943.4 L3451.4 949.6 M3463.6 947.8 L3460.7 954.2 M3472.8 952 L3470 958.4 M3482 955.9 L3479.3 962.4 M3491.3 959.8 L3488.6 966.3 M3500.6 963.6 L3497.9 970" stroke-width="1.2"/>
<path d="M2200 514.1 L2238.2 508.7 L2249.4 514.1" stroke-width="1"/>
<path d="M2677.6 494.9 L2677.6 510.9" stroke-width="1.2"/>
<path d="M2688.6 494.9 L2688.6 510.9" stroke-width="1.2"/>
<path d="M2677.6 495.9 L2677.6 511.9" stroke-width="1.2"/>
<path d="M2688.6 495.9 L2688.6 511.9" stroke-width="1.2"/>
<path d="M3175.7 684.2 L3175.7 696.2" stroke-width="1.1"/>
<path d="M3184.1 684.2 L3184.1 696.2" stroke-width="1.1"/>
<path d="M3501.2 841.5 L3501.2 853.5" stroke-width="1.1"/>
<path d="M3509.6 841.5 L3509.6 853.5" stroke-width="1.1"/>
<path d="M2861.5 667.9 L2874.2 645.6 L2949 481.6" stroke-width="1" stroke-dasharray="2 2"/>
<path d="M2866.2 659.9 L2882.2 629.7" stroke-width="1"/>
<path d="M2869.4 661.5 L2885.4 631.3" stroke-width="1"/>
<path d="M2873.2 662.2 L2886.9 636.1" stroke-width="1"/>
<path d="M2896.5 599.4 L2914 561.2" stroke-width="1"/>
<path d="M2899.7 600.4 L2916.6 563.4" stroke-width="1"/>
<path d="M2902.9 601 L2917.8 567.6" stroke-width="1"/>
<path d="M2929.9 527.8 L2947.5 489.6" stroke-width="1"/>
<path d="M2933.1 527.8 L2949.7 492.7" stroke-width="1"/>
<path d="M2936.3 528.4 L2951 497.5" stroke-width="1"/>
<path d="M2971.3 494.3 L2894.9 661.5 L2891.1 674.9" stroke-width="1.1" stroke-dasharray="22 7"/>
<path d="M2948.4 508.7 L2962.4 515" stroke-width="1"/>
<path d="M2961.1 511.2 L2958.6 516.3" stroke-width="1"/>
<path d="M2913.4 580.3 L2927.4 586.7" stroke-width="1"/>
<path d="M2926.1 582.9 L2923.6 588" stroke-width="1"/>
<path d="M2881.5 651.3 L2895.5 657.7" stroke-width="1"/>
<path d="M2894.3 653.9 L2891.7 659" stroke-width="1"/>
<path d="M2948.4 482.2 L2903.8 580" stroke-width="1" stroke-dasharray="2 2"/>
<path d="M2951 488.6 L2932.5 525.2" stroke-width="1"/>
<path d="M2953.5 490.2 L2935.7 526.8" stroke-width="1"/>
<path d="M2970.7 496.6 L2932.5 580" stroke-width="1.1" stroke-dasharray="22 7"/>
<path d="M2947.8 507.7 L2961.8 515" stroke-width="1"/>
<path d="M2961.1 512.5 L2958.6 518.9" stroke-width="1"/>
<path d="M3457 719.7 L3369.4 887.9" stroke-width="1.1"/>
<path d="M3460.2 723.9 L3441.1 760.5" stroke-width="1"/>
<path d="M3462.4 728.7 L3445.9 758.9" stroke-width="1"/>
<path d="M3423.6 793.9 L3406.1 827.4" stroke-width="1"/>
<path d="M3426.1 797.1 L3410.8 825.8" stroke-width="1"/>
<path d="M3390.1 852.9 L3372.6 887.9" stroke-width="1"/>
<path d="M3393.3 856.1 L3377.4 886.3" stroke-width="1"/>
<path d="M3477.7 728.7 L3404.5 881.5 L3399.7 894.9" stroke-width="1.1" stroke-dasharray="22 7"/>
<path d="M3454.8 744.6 L3468.8 751" stroke-width="1"/>
<path d="M3467.5 747.1 L3465 752.2" stroke-width="1"/>
<path d="M3419.7 811.5 L3433.8 817.8" stroke-width="1"/>
<path d="M3432.5 814 L3429.9 819.1" stroke-width="1"/>
<path d="M3387.9 873.6 L3401.9 879.9" stroke-width="1"/>
<path d="M3400.6 876.1 L3398.1 881.2" stroke-width="1"/>
<path d="M3667 612 L3554.1 865.6"/>
<path d="M3545.2 879.9 L3540.8 891.1"/>
<path d="M3536.6 902.2 L3490.4 1000"/>
<path d="M1345.5 576.4 C1346.9 583.3 1350.1 603 1353.5 617.8 C1357 632.7 1361.7 651.3 1366.2 665.6 C1370.8 679.9 1376.1 693.2 1380.6 703.8 C1385.1 714.4 1391.2 725.1 1393.3 729.3" stroke-width="1.6"/>
<path d="M1345.5 576.4 L1338.7 577.7 M1347.1 585.3 L1340.2 586.5 M1348.7 594.1 L1341.8 595.4 M1350.4 603 L1343.5 604.3 M1352.2 611.8 L1345.3 613.3 M1354.1 620.6 L1347.3 622.2 M1356.3 629.3 L1349.5 631 M1358.5 638.1 L1351.7 639.8 M1360.8 646.8 L1354 648.6 M1363.2 655.4 L1356.5 657.4 M1365.8 664.1 L1359.1 666.1 M1368.6 672.6 L1362 674.9 M1371.7 681.1 L1365.1 683.5 M1374.9 689.5 L1368.4 692 M1378.2 697.8 L1371.7 700.4" stroke-width="1.2"/>
<path d="M1338.2 580.3 L1347.8 577.7" stroke-width="1.2"/>
<path d="M1396.5 556.7 C1398.9 564.8 1405.8 589.1 1410.8 605.1 C1415.9 621.1 1421.2 636.4 1426.8 652.9 C1432.3 669.3 1441.3 695.3 1444.3 703.8" stroke-width="1.6"/>
<path d="M1396.5 556.7 L1403.2 554.7 M1399 565.3 L1405.7 563.4 M1401.5 574 L1408.2 572 M1404 582.6 L1410.8 580.6 M1406.6 591.2 L1413.3 589.2 M1409.2 599.9 L1415.9 597.8 M1411.9 608.4 L1418.6 606.3 M1414.7 617 L1421.3 614.8 M1417.5 625.6 L1424.1 623.3 M1420.4 634.1 L1427 631.8 M1423.3 642.6 L1429.9 640.3 M1426.2 651.1 L1432.8 648.9 M1429.1 659.6 L1435.7 657.4 M1432 668.2 L1438.6 665.9 M1434.9 676.7 L1441.5 674.4 M1437.8 685.2 L1444.4 682.9 M1440.8 693.7 L1447.4 691.4 M1443.7 702.2 L1450.3 699.9" stroke-width="1.2"/>
<path d="M1373.2 686.3 L1369.2 691.9 L1370.9 695.4 L1377.9 696.3 L1373.9 701.8 L1375.5 705.3 L1382.6 706.2 L1378.5 711.8 L1380.2 715.3 L1387.2 716.2 L1383.2 721.8 L1384.8 725.3 L1391.9 726.2" stroke-width="1.1"/>
<path d="M1449 703.8 L1452.7 698 L1450.8 694.6 L1443.7 694.2 L1447.4 688.4 L1445.5 685 L1438.4 684.5 L1442.1 678.7 L1440.2 675.3 L1433.1 674.9" stroke-width="1.1"/>
<path d="M1399.4 730.8 L1441.8 833.8 L1435.5 857.1 L1428 868.8" stroke-width="3"/>
<path d="M1451 710.5 L1489.2 809.2 L1521 820.9" stroke-width="3"/>
<path d="M1452 710.5 L1457.7 702" stroke-width="1.2"/>
<circle cx="1383.1" cy="735.7" r="4.8" stroke-width="1.3" fill="none"/>
<path d="M1367.8 738.2 L1378 736.3" stroke-width="1"/>
<path d="M1314.4 780.7 L1322.1 784.5 L1326.4 782.1 L1326.7 774 L1334.4 777.8 L1338.7 775.4 L1339 767.2 L1346.7 771 L1351 768.7 L1351.3 760.5 L1358.9 764.3 L1363.2 762 L1363.6 753.8 L1371.2 757.6 L1375.5 755.2 L1375.9 747.1" stroke-width="1.1"/>
<path d="M1314.4 780.7 L1382 743.7" stroke-width="1.1"/>
<path d="M1597.5 584 L1589.2 581.7 L1585.4 584.8 L1586.6 592.9 L1578.4 590.6 L1574.6 593.7 L1575.8 601.8 L1567.6 599.5 L1563.8 602.6 L1565 610.7 L1556.7 608.3 L1553 611.5 L1554.1 619.5 L1545.9 617.2 L1542.1 620.3 L1543.3 628.4 L1535.1 626.1 L1531.3 629.2 L1532.5 637.3 L1524.3 635 L1520.5 638.1 L1521.7 646.2 L1513.4 643.8 L1509.6 647 L1510.8 655 L1502.6 652.7 L1498.8 655.8 L1500 663.9 L1491.8 661.6 L1488 664.7 L1489.2 672.8 L1480.9 670.5 L1477.2 673.6 L1478.3 681.6 L1470.1 679.3 L1466.3 682.4 L1467.5 690.5" stroke-width="1.1"/>
<path d="M1597.5 584 L1459.8 696.9" stroke-width="1.1"/>
<text x="1413" y="582" font-size="23" letter-spacing="1" stroke="#000" stroke-width="0.5">427.3</text>
<circle cx="1381.2" cy="573.9" r="2.2" fill="#000" stroke="none"/>
<path d="M1506.6 574.3 L1506.6 585.3" stroke-width="1.1"/>
<path d="M1514.3 574.3 L1514.3 585.3" stroke-width="1.1"/>
<path d="M1230.2 723.2 L1230.2 734.2" stroke-width="1.1"/>
<path d="M1237.9 723.2 L1237.9 734.2" stroke-width="1.1"/>
<path d="M1599.6 566 L1597.5 584" stroke-width="1.1"/>
<path d="M1576.2 539.4 L1596.4 557.5" stroke-width="1"/>
<path d="M1619.7 547.9 L1646.3 529.3" stroke-width="1"/>
<path d="M1622.9 563.4 L1603.8 579.8" stroke-width="1.2" stroke-dasharray="22 7"/>
<path d="M1614.4 578.1 C1613.6 580.1 1614.1 582.7 1609.1 590.4 C1604.2 598.1 1599.8 609.4 1584.7 624.4 C1569.7 639.3 1539.4 663.2 1518.9 680 C1498.4 696.8 1471.1 717.8 1461.6 725.4" stroke-width="2.2"/>
<path d="M1466.9 737.5 C1469.4 737.2 1477.8 737.1 1481.7 736 C1485.6 734.9 1480.7 740 1490.2 730.7 C1499.8 721.3 1518.7 700.5 1539.1 679.9 C1559.4 659.4 1595.5 623.7 1612.3 607.4 C1629.1 591.1 1629.3 592.5 1639.9 581.9 C1650.5 571.3 1665 556.4 1676 543.7 C1687 531 1699 514.3 1705.7 505.5 C1712.5 496.6 1714.6 493.1 1716.3 490.6" stroke-width="1.6"/>
<path d="M1654.8 580 C1647.7 586 1624.7 605.7 1612.3 615.9 C1599.9 626.1 1585.8 637.1 1580.5 641.4" stroke-width="2.8"/>
<path d="M1580 640.9 C1580.2 639.8 1579.8 636.3 1581.1 633.9 C1582.4 631.5 1586.8 627.7 1587.9 626.5" stroke-width="1.1"/>
<path d="M1743.9 580 C1739.7 582.4 1728.4 588.3 1718.5 594.6 C1708.6 601 1694.6 610.6 1684.5 618 C1674.4 625.4 1662.4 635.7 1658 639.2" stroke-width="1.1"/>
<path d="M1791.7 580 C1786.6 582.4 1774.9 588.3 1760.9 594.6 C1747 601 1720.9 610.6 1707.9 618 C1694.8 625.4 1688 632.9 1682.4 639.2 C1676.7 645.6 1675.3 653.4 1673.9 656.2" stroke-width="1.1"/>
<path d="M1849 580 C1845 583.1 1839.3 588.7 1824.6 598.9 C1809.9 609.1 1775.1 630 1760.9 641.4 C1746.8 652.7 1748.5 659.5 1739.7 667 C1730.9 674.4 1714.4 680.4 1707.9 686.1 C1701.3 691.8 1701.7 698.5 1700.4 701" stroke-width="2.2"/>
<path d="M1898.3 580 C1886 587.7 1842.2 614.8 1824.6 626.5 C1807 638.2 1803.4 642.5 1792.8 650 C1782.2 657.5 1774.4 661.3 1760.9 671.2 C1747.5 681.1 1720.2 703.1 1712.1 709.4" stroke-width="1.1"/>
<path d="M1655.8 643.5 C1658.8 646.3 1669.5 657.3 1673.9 660.5 C1678.3 663.7 1678.8 658.8 1682.4 662.7 C1685.9 666.7 1692.1 677.6 1695.1 684 C1698.1 690.3 1698.7 696.4 1700.4 701 C1702.2 705.6 1704.8 709.8 1705.7 711.6" stroke-width="1.8"/>
<path d="M1647.3 654.5 C1650.4 656.6 1662.4 664.8 1665.4 666.8 C1668.4 668.9 1662.6 663.8 1665.4 667 C1668.2 670.2 1677.1 678.7 1682.4 686.1 C1687.7 693.5 1694.8 707.3 1697.2 711.6" stroke-width="1.8"/>
<path d="M1612.3 677.9 C1615.9 675 1627.7 664.4 1633.5 660.5 C1639.4 656.6 1645 655.5 1647.3 654.5" stroke-width="1.1"/>
<path d="M1618.7 675.3 C1621.2 675.2 1626.1 675.7 1633.5 674.3 C1641 672.9 1658.3 668.1 1663.3 666.8" stroke-width="1.1"/>
<path d="M1694.1 717.5 C1695.5 718 1699.8 720.6 1702.5 720.5 C1705.3 720.4 1709.1 717.7 1710.4 717.1" stroke-width="2"/>
<path d="M1705.7 709.4 L1708.3 720.1" stroke-width="2"/>
<text x="1704.7" y="590.4" font-size="33" font-weight="500" transform="rotate(-32 1704.7 590.4)" stroke="none">川</text>
<text x="1626.1" y="652" font-size="33" font-weight="500" transform="rotate(-32 1626.1 652)" stroke="none">洞</text>
<text x="1548.6" y="717.9" font-size="33" font-weight="500" transform="rotate(-32 1548.6 717.9)" stroke="none">外</text>
<path d="M1721.2 504.2 L1721.2 520.2" stroke-width="1.1"/>
<path d="M1712.2 515.2 L1712.2 523.2" stroke-width="1.1" stroke-dasharray="3 3"/>
<path d="M1730.2 515.2 L1730.2 526.2" stroke-width="1.1"/>
<path d="M1721.2 523.2 L1721.2 526.2" stroke-width="1.1"/>
<path d="M1733.3 623.1 L1733.3 639.1" stroke-width="1.1"/>
<path d="M1724.3 634.1 L1724.3 642.1" stroke-width="1.1" stroke-dasharray="3 3"/>
<path d="M1742.3 634.1 L1742.3 645.1" stroke-width="1.1"/>
<path d="M1733.3 642.1 L1733.3 645.1" stroke-width="1.1"/>
<circle cx="1862.2" cy="626.9" r="5.5" fill="#000" stroke="none"/>
<path d="M1846.9 631.8 L1877.7 620.1" stroke-width="1.1"/>
<path d="M1495.5 794.4 C1500.8 788.7 1515 774.2 1527.4 760.4 C1539.8 746.6 1555 726.1 1569.9 711.6 C1584.7 697.1 1604.5 682.9 1616.6 673.4 C1628.6 663.8 1637.8 657.4 1642 654.2" stroke-width="1.1"/>
<path d="M1494.5 802.9 C1503.5 797.2 1529 782 1548.6 768.9 C1568.3 755.8 1596.4 735.3 1612.3 724.3 C1628.2 713.3 1636 707.3 1644.2 703.1 C1652.3 698.8 1655.8 699.2 1661.1 698.8 C1666.5 698.5 1670.3 699.5 1676 701 C1681.7 702.4 1691.9 706.6 1695.1 707.7" stroke-width="2.2"/>
<path d="M1628.2 744.5 C1632.7 742.2 1645 734.6 1654.8 730.7 C1664.5 726.8 1681.3 722.7 1686.6 721.1" stroke-width="1"/>
<path d="M1589 788 L1583.7 775.3 L1661.1 740.2 L1667.5 754" stroke-width="1.1"/>
<path d="M1591.1 785.9 Q1594.1 775.7 1603.8 780.1 M1603.8 780.1 Q1606.9 769.9 1616.5 774.2 M1616.5 774.2 Q1619.6 764.1 1629.3 768.4 M1629.3 768.4 Q1632.3 758.2 1642 762.6 M1642 762.6 Q1645.1 752.4 1654.7 756.8" stroke-width="1.2"/>
<path d="M1522.1 822 C1533.6 816.5 1566.8 800.6 1591.1 789.1 C1615.3 777.6 1646.3 763.9 1667.5 753 C1688.7 742 1699.4 733.7 1718.5 723.2 C1737.6 712.8 1764.5 699.2 1782.2 690.3 C1799.9 681.5 1811.2 676.9 1824.6 670.2 C1838.1 663.4 1856.5 653.4 1862.8 650" stroke-width="3"/>
<path d="M1522.1 822 Q1524.9 811.7 1535.6 815.5 M1535.6 815.5 Q1538.5 805.3 1549.2 809 M1549.2 809 Q1552 798.8 1562.7 802.6 M1562.7 802.6 Q1565.6 792.3 1576.2 796.1 M1576.2 796.1 Q1579.1 785.9 1589.8 789.7 M1589.8 789.7 Q1592.7 779.5 1603.4 783.3 M1603.4 783.3 Q1606.4 773.1 1617 777 M1617 777 Q1620 766.8 1630.6 770.7 M1630.6 770.7 Q1633.6 760.5 1644.2 764.4 M1644.2 764.4 Q1647 754.2 1657.7 757.9 M1657.7 757.9 Q1660.4 747.6 1671.1 751.1 M1671.1 751.1 Q1673.3 740.8 1684.2 743.8 M1684.2 743.8 Q1686 733.3 1697 736 M1697 736 Q1698.8 725.4 1709.8 728.2 M1709.8 728.2 Q1712 717.7 1722.9 720.9 M1722.9 720.9 Q1725.3 710.5 1736.1 713.8 M1736.1 713.8 Q1738.7 703.5 1749.4 706.9 M1749.4 706.9 Q1752 696.6 1762.8 700.1 M1762.8 700.1 Q1765.4 689.8 1776.2 693.3 M1776.2 693.3 Q1778.9 683 1789.6 686.7 M1789.6 686.7 Q1792.5 676.4 1803.2 680.2 M1803.2 680.2 Q1806.1 670 1816.7 673.8" stroke-width="1.3"/>
<path d="M1463.7 850 L1522.1 823" stroke-width="1.1"/>
<path d="M1663.3 803.9 C1676 798.4 1712.8 782.7 1739.7 771 C1766.6 759.3 1797.9 745.4 1824.6 733.9 C1851.3 722.4 1887.4 707.3 1900 702" stroke-width="2.6"/>
<path d="M1773.7 798.6 L1900 754" stroke-width="1.2" stroke-dasharray="26 8"/>
<path d="M1682.4 749.8 L1714.2 817.7" stroke-width="1.2" stroke-dasharray="14 4 2 4"/>
<path d="M1695.1 743.4 L1724.8 807.1" stroke-width="1.2" stroke-dasharray="14 4 2 4"/>
<path d="M1644.2 771 L1669.6 828.3" stroke-width="1.6"/>
<text x="1604.9" y="801.8" font-size="24" transform="rotate(-25 1604.9 801.8)" stroke="#000" stroke-width="0.5">R</text>
<text x="1642" y="777.4" font-size="21" transform="rotate(-114 1642 777.4)" stroke="#000" stroke-width="1">5</text>
<text x="1652.2" y="801.2" font-size="21" transform="rotate(-114 1652.2 801.2)" stroke="#000" stroke-width="1">5</text>
<text x="1585.8" y="827.3" font-size="25" letter-spacing="0.5" stroke="#000" stroke-width="0.5">6·427.79</text>
<path d="M1593.2 826.2 L1604.2 846.4" stroke-width="2.6"/>
<path d="M1576.2 844.3 L1587.3 840.7" stroke-width="2.6"/>
<path d="M1685.6 842.1 L1688.7 834.3 L1766.9 796.9 L1771.5 801.8 L1694.1 839.4" stroke-width="2.2"/>
<path d="M1691.9 836.8 L1760.9 804.6" stroke-width="1.2" stroke-dasharray="14 5"/>
<path d="M1773.7 798.6 L1792.8 799.7 L1877.7 811.4 L1900 798.6" stroke-width="1.1"/>
<path d="M1870.3 768.9 L1875.6 785.9" stroke-width="1.1"/>
<path d="M1863.9 791.2 L1887.3 785.9" stroke-width="1.1"/>
<path d="M1854.4 800.3 L1890.4 791.8" stroke-width="1.1"/>
<path d="M1021.7 533.4 L1228.8 1494.6" stroke-width="1.2"/>
<path d="M1093.9 857.1 C1095 857.1 1088.4 861 1100 857.1 C1111.6 853.2 1142.5 841.4 1163.7 833.8 C1184.9 826.2 1206.2 818.9 1227.4 811.5 C1248.6 804 1276.6 794.3 1291.1 789.2 C1305.6 784 1310.5 782.1 1314.4 780.7" stroke-width="1.1"/>
<path d="M1093.9 857.1 Q1102.5 865.8 1108.2 854.2 M1108.2 854.2 Q1119.8 859.6 1125.1 848 M1125.1 848 Q1136.7 853.3 1141.9 841.7 M1141.9 841.7 Q1153.5 847.1 1158.8 835.5 M1158.8 835.5 Q1170.3 840.9 1175.8 829.5 M1175.8 829.5 Q1187.3 835 1192.8 823.5 M1192.8 823.5 Q1204.2 829.1 1209.8 817.6 M1209.8 817.6 Q1221.2 823.1 1226.8 811.7 M1226.8 811.7 Q1238.2 817.2 1243.8 805.7 M1243.8 805.7 Q1255.2 811.3 1260.8 799.8 M1260.8 799.8 Q1272.2 805.3 1277.8 793.9 M1277.8 793.9 Q1289.2 799.4 1294.7 787.9 M1294.7 787.9 Q1306.3 793.3 1311.6 781.7" stroke-width="1.2"/>
<path d="M1101.9 889.9 C1101.6 890.6 1093.2 895.1 1100 894.3 C1106.8 893.5 1124.8 891.3 1142.5 885.1 C1160.2 879 1184.9 868.2 1206.2 857.5 C1227.4 846.9 1248.6 833.5 1269.9 821.4 C1291.1 809.4 1315.9 794.6 1333.5 785.4 C1351.2 776.2 1364.2 771 1376 766.2 C1387.9 761.5 1399.9 758.5 1404.7 756.9" stroke-width="2"/>
<path d="M1103.5 904.2 C1105 903.5 1102.7 903.1 1112.7 900 C1122.8 896.9 1144.6 893.1 1163.7 885.8 C1182.8 878.5 1206.2 867 1227.4 856.1 C1248.6 845.1 1271.6 831.1 1291.1 820 C1310.5 808.8 1330 796.7 1344.2 789.2 C1358.3 781.6 1365.9 778.7 1376 774.7 C1386.1 770.8 1399.9 766.9 1404.7 765.4" stroke-width="2"/>
<path d="M1149 851.4 L1149 867.4" stroke-width="1.1"/>
<path d="M1140 862.4 L1140 870.4" stroke-width="1.1" stroke-dasharray="3 3"/>
<path d="M1158 862.4 L1158 873.4" stroke-width="1.1"/>
<path d="M1149 870.4 L1149 873.4" stroke-width="1.1"/>
<path d="M1113.1 948.8 C1120.8 946.4 1140.9 941.4 1159.2 934.5 C1177.5 927.6 1201.7 916.7 1222.9 907.4 C1244.2 898.1 1265.4 888.8 1286.6 878.7 C1307.9 868.6 1327.5 857.5 1350.3 846.9 C1373.1 836.3 1411.4 820.3 1423.6 815" stroke-width="1.1"/>
<circle cx="1428.3" cy="868.5" r="3" fill="#000" stroke="none"/>
<path d="M1162.4 954.5 L1379 872.4 L1384.4 887.6 L1167.8 970.1 L1162.4 954.5" stroke-width="1.6"/>
<path d="M1177.9 948.7 L1183.3 964.2" stroke-width="1.1"/>
<path d="M1193.4 942.8 L1198.8 958.3" stroke-width="1.1"/>
<path d="M1208.8 936.9 L1214.2 952.5" stroke-width="1.1"/>
<path d="M1224.3 931 L1229.7 946.6" stroke-width="1.1"/>
<path d="M1239.8 925.2 L1245.2 940.7" stroke-width="1.1"/>
<path d="M1255.2 919.3 L1260.6 934.8" stroke-width="1.1"/>
<path d="M1270.7 913.4 L1276.1 928.9" stroke-width="1.1"/>
<path d="M1286.2 907.6 L1291.6 923" stroke-width="1.1"/>
<path d="M1301.6 901.7 L1307.1 917.1" stroke-width="1.1"/>
<path d="M1317.1 895.8 L1322.5 911.2" stroke-width="1.1"/>
<path d="M1332.6 890 L1338 905.3" stroke-width="1.1"/>
<path d="M1348 884.1 L1353.5 899.4" stroke-width="1.1"/>
<path d="M1363.5 878.2 L1368.9 893.5" stroke-width="1.1"/>
<path d="M1118.5 990.8 C1126.6 987.5 1133.9 983.3 1167.2 971.1 C1200.5 958.9 1274.9 934.5 1318.5 917.6 C1362 900.7 1410 877.8 1428.3 869.8" stroke-width="2.8"/>
<path d="M1428.3 869.8 L1522.3 823" stroke-width="1.2"/>
<path d="M1118.5 985.4 Q1121.6 976.7 1130.6 980.8 M1130.6 980.8 Q1133.7 972.1 1142.7 976.1 M1142.7 976.1 Q1145.8 967.4 1154.9 971.4" stroke-width="1.1"/>
<path d="M1386.9 883.5 Q1390.3 874.9 1399.2 879.2 M1399.2 879.2 Q1402.6 870.6 1411.5 874.9 M1411.5 874.9 Q1414.8 866.3 1423.8 870.6" stroke-width="1.1"/>
<path d="M1117.8 979 L1140.1 970.4 L1162.4 967.9" stroke-width="1.1"/>
<path d="M1296.2 974.9 L1566.9 852" stroke-width="2.6"/>
<path d="M1577.1 846.2 L1596.2 840.5" stroke-width="2.6"/>
<path d="M1271.3 987 L1280.9 983.8" stroke-width="2.6"/>
<path d="M1125.8 1001.3 L1149.7 1071.4" stroke-width="2"/>
<path d="M1125.8 1001.3 L1131.2 1011.8 L1127.4 1013.4Z" fill="#000" stroke="none"/>
<path d="M1149.7 1071.4 L1143.9 1060.3 L1147.8 1059Z" fill="#000" stroke="none"/>
<path d="M1130.6 1036.4 L1203.8 1016.3" stroke-width="1.2"/>
<text x="1164" y="1053" font-size="25" text-anchor="middle" transform="rotate(-72 1164 1044)" stroke="#000" stroke-width="1">6</text>
<text x="1166.5" y="1031" font-size="25" text-anchor="middle" transform="rotate(-72 1166.5 1031)" stroke="#000" stroke-width="1">.</text>
<text x="1152.5" y="1025" font-size="25" text-anchor="middle" transform="rotate(-72 1152.5 1016)" stroke="#000" stroke-width="1">0</text>
<text x="1199" y="1009.3" font-size="23" letter-spacing="1.5" stroke="#000" stroke-width="0.5">428.2</text>
<circle cx="1193.3" cy="1001.7" r="2" fill="#000" stroke="none"/>
<text x="1361.5" y="973" font-size="30" letter-spacing="1" stroke="#000" stroke-width="0.5">As</text>
<path d="M1136.9 1080 C1149.2 1076.7 1173 1073.6 1210.2 1060.3 C1247.3 1046.9 1310 1021 1359.9 999.7 C1409.8 978.5 1463.4 954.1 1509.6 932.9 C1555.7 911.6 1608.3 886.4 1636.9 872.4 C1665.6 858.3 1674.1 852.5 1681.5 848.5" stroke-width="1.5" stroke-dasharray="17 8"/>
<path d="M1137.9 1084.1 L1143.7 1082.7 L1149.5 1081.4 L1155.4 1080.2 L1161.3 1078.9 L1167.2 1077.5 L1173.1 1076.1 L1178.9 1074.5 L1184.8 1072.9 L1190.6 1071.2 L1196.4 1069.4 L1202.1 1067.5 L1207.9 1065.5 L1213.6 1063.5 L1219.2 1061.4 L1224.9 1059.3 L1230.5 1057.2 L1236.1 1055 L1241.7 1052.9 L1247.3 1050.7 L1252.9 1048.5 L1258.5 1046.2 L1264.1 1044 L1269.6 1041.8 L1275.2 1039.5 L1280.8 1037.3 L1286.3 1035 L1291.9 1032.7 L1297.5 1030.4 L1303 1028.2 L1308.6 1025.9 L1314.1 1023.6 L1319.7 1021.2 L1325.2 1018.9 L1330.7 1016.6 L1336.3 1014.3 L1341.8 1012 L1347.3 1009.6 L1352.9 1007.3 L1358.4 1004.9 L1363.9 1002.6 L1369.4 1000.2 L1375 997.9 L1380.5 995.5 L1386 993.1 L1391.5 990.7 L1397 988.3 L1402.5 985.9 L1408 983.4 L1413.5 981 L1419 978.6 L1424.4 976.1 L1429.9 973.7 L1435.4 971.2 L1440.9 968.8 L1446.4 966.3 L1451.8 963.8 L1457.3 961.4 L1462.8 958.9 L1468.2 956.4 L1473.7 953.9 L1479.2 951.4 L1484.6 948.9 L1490.1 946.4 L1495.5 943.9 L1501 941.4 L1506.4 938.9 L1511.9 936.4 L1517.4 933.9 L1522.8 931.4 L1528.3 928.8 L1533.7 926.3 L1539.1 923.8 L1544.6 921.2 L1550 918.7 L1555.4 916.1 L1560.9 913.6 L1566.3 911 L1571.7 908.4 L1577.1 905.8 L1582.6 903.3 L1588 900.7 L1593.4 898.1 L1598.8 895.5 L1604.2 892.9 L1609.6 890.3 L1615 887.7 L1620.5 885.1 L1625.9 882.4 L1631.3 879.8 L1636.7 877.2 L1642.1 874.5 L1647.4 871.8 L1652.8 869.1 L1658.2 866.3 L1663.5 863.4 L1668.8 860.5 L1674.1 857.6 L1679.3 854.5" stroke-width="1.1"/>
<path d="M1207 1065 L1371 999.7 L1379.6 1018.2 L1215.6 1084.1 L1207 1065" stroke-width="1.6"/>
<path d="M1214.5 1062.1 L1223.1 1081.1" stroke-width="1"/>
<path d="M1221.9 1059.1 L1230.5 1078.1" stroke-width="1"/>
<path d="M1229.4 1056.1 L1238 1075.2" stroke-width="1"/>
<path d="M1236.8 1053.2 L1245.4 1072.2" stroke-width="1"/>
<path d="M1244.3 1050.2 L1252.9 1069.2" stroke-width="1"/>
<path d="M1251.7 1047.2 L1260.3 1066.2" stroke-width="1"/>
<path d="M1259.2 1044.3 L1267.8 1063.2" stroke-width="1"/>
<path d="M1266.6 1041.3 L1275.2 1060.2" stroke-width="1"/>
<path d="M1274.1 1038.3 L1282.7 1057.2" stroke-width="1"/>
<path d="M1281.6 1035.4 L1290.2 1054.2" stroke-width="1"/>
<path d="M1289 1032.4 L1297.6 1051.2" stroke-width="1"/>
<path d="M1296.5 1029.4 L1305.1 1048.2" stroke-width="1"/>
<path d="M1303.9 1026.5 L1312.5 1045.2" stroke-width="1"/>
<path d="M1311.4 1023.5 L1320 1042.2" stroke-width="1"/>
<path d="M1318.8 1020.5 L1327.4 1039.2" stroke-width="1"/>
<path d="M1326.3 1017.6 L1334.9 1036.2" stroke-width="1"/>
<path d="M1333.7 1014.6 L1342.3 1033.2" stroke-width="1"/>
<path d="M1341.2 1011.6 L1349.8 1030.2" stroke-width="1"/>
<path d="M1348.7 1008.6 L1357.3 1027.2" stroke-width="1"/>
<path d="M1356.1 1005.7 L1364.7 1024.2" stroke-width="1"/>
<path d="M1363.6 1002.7 L1372.2 1021.2" stroke-width="1"/>
<path d="M1211.3 1074.6 L1375.3 1009" stroke-width="1"/>
<path d="M1681.5 848.5 C1678.3 854.6 1672 871.6 1662.4 885.1 C1652.9 898.6 1639.1 913.2 1624.2 929.7 C1609.3 946.1 1591.3 966.8 1573.2 983.8 C1555.2 1000.8 1537.2 1017 1515.9 1031.6 C1494.7 1046.2 1460.7 1063.3 1445.9 1071.4 C1431 1079.5 1429.9 1078.6 1426.8 1080" stroke-width="1.1"/>
<path d="M1911.9 783.6 L2001.5 799.5 L2280.2 777.6 L2497.1 839.3 L2696.2 907 L2875.3 952.8 L2900 952.8" stroke-width="2"/>
<path d="M2005.5 813.5 L2272.2 793.6 L2457.3 839.3 L2616.6 891.1 L2803.7 952" stroke-width="2"/>
<path d="M2005.5 813.5 L2109 863.2 L2138.9 869.2 L2266.2 877.1 L2457.3 915 L2612.6 950.8 L2803.7 952.8" stroke-width="2"/>
<path d="M2128.9 886.3 L2272.2 895.1 L2497.1 942" stroke-width="2"/>
<path d="M2128.9 886.3 L2174.7 926.1 L2411.5 965.9 L2497.1 942.8" stroke-width="2"/>
<path d="M1972.9 735 L1972.9 769.7" stroke-width="1.1"/>
<path d="M1966.9 769 L1978.8 770.3" stroke-width="1.1"/>
<path d="M1958.4 773.6 L1990.3 777" stroke-width="1.1"/>
<path d="M1950 778.3 L2001.7 783.7" stroke-width="1.1"/>
<path d="M2081.9 727.1 L2081.9 767.7" stroke-width="1.1"/>
<path d="M2075.9 768 L2087.9 767.4" stroke-width="1.1"/>
<path d="M2067.4 773.9 L2099.4 772.3" stroke-width="1.1"/>
<path d="M2059 779.9 L2110.9 777.2" stroke-width="1.1"/>
<path d="M2209.7 702 L2214.5 755.7" stroke-width="1.1"/>
<path d="M2208.5 756.2 L2220.5 755.3" stroke-width="1.1"/>
<path d="M2200.5 762.2 L2232.4 760" stroke-width="1.1"/>
<path d="M2192.5 768.3 L2244.4 764.7" stroke-width="1.1"/>
<path d="M2345.1 715.1 L2339.9 763.7" stroke-width="1.1"/>
<path d="M2334.1 762.2 L2345.7 765.1" stroke-width="1.1"/>
<path d="M2325.2 765.7 L2356.3 773.4" stroke-width="1.1"/>
<path d="M2316.4 769.1 L2366.9 781.6" stroke-width="1.1"/>
<path d="M2452.5 747 L2445.4 789.6" stroke-width="1.1"/>
<path d="M2439.6 787.8 L2451.1 791.3" stroke-width="1.1"/>
<path d="M2430.6 790.8 L2461.2 800.1" stroke-width="1.1"/>
<path d="M2421.6 793.7 L2471.3 808.9" stroke-width="1.1"/>
<path d="M2570 770.9 L2560.8 819.4" stroke-width="1.1"/>
<path d="M2555.1 817.6 L2566.5 821.3" stroke-width="1.1"/>
<path d="M2546 820.4 L2576.5 830.2" stroke-width="1.1"/>
<path d="M2536.9 823.1 L2586.4 839.2" stroke-width="1.1"/>
<path d="M2700.2 821.4 L2690.2 865.2" stroke-width="1.1"/>
<path d="M2684.5 863.5 L2695.9 867" stroke-width="1.1"/>
<path d="M2675.1 866.3 L2705.7 875.7" stroke-width="1.1"/>
<path d="M2665.8 869.2 L2715.5 884.4" stroke-width="1.1"/>
<path d="M2845.5 871.2 L2837.5 913" stroke-width="1.1"/>
<path d="M2831.7 911.5 L2843.3 914.4" stroke-width="1.1"/>
<path d="M2822.4 914.9 L2853.5 922.6" stroke-width="1.1"/>
<path d="M2813.1 918.2 L2863.6 930.8" stroke-width="1.1"/>
<path d="M2095.1 805.5 L2093.1 837.3" stroke-width="1.1"/>
<path d="M2087.5 835.1 L2098.6 839.6" stroke-width="1.1"/>
<path d="M2080.2 837.3 L2108.1 848.5" stroke-width="1.1"/>
<path d="M2073 839.5 L2117.5 857.4" stroke-width="1.1"/>
<path d="M2169.9 812.7 L2167.5 845.3" stroke-width="1.1"/>
<path d="M2161.5 845 L2173.5 845.6" stroke-width="1.1"/>
<path d="M2153.7 849.6 L2183.6 851.2" stroke-width="1.1"/>
<path d="M2145.8 854.2 L2193.7 856.7" stroke-width="1.1"/>
<path d="M2271 809.5 L2269.4 855.3" stroke-width="1.1"/>
<path d="M2263.4 854.9 L2275.4 855.6" stroke-width="1.1"/>
<path d="M2255.8 859.5 L2285.7 861.1" stroke-width="1.1"/>
<path d="M2248.1 864.1 L2296 866.7" stroke-width="1.1"/>
<path d="M2367.8 829.4 L2361 877.1" stroke-width="1.1"/>
<path d="M2355.1 875.9 L2366.9 878.4" stroke-width="1.1"/>
<path d="M2347.1 879.3 L2376.4 885.5" stroke-width="1.1"/>
<path d="M2339 882.7 L2386 892.7" stroke-width="1.1"/>
<path d="M2474 858.4 L2469.3 897.1" stroke-width="1.1"/>
<path d="M2463.4 895.7 L2475.1 898.4" stroke-width="1.1"/>
<path d="M2455.5 899 L2484.7 905.7" stroke-width="1.1"/>
<path d="M2447.6 902.3 L2494.3 913.1" stroke-width="1.1"/>
<path d="M2579.9 892.3 L2576.8 920.9" stroke-width="1.1"/>
<path d="M2570.9 919.6 L2582.6 922.3" stroke-width="1.1"/>
<path d="M2563 922.9 L2592.3 929.6" stroke-width="1.1"/>
<path d="M2555.2 926.2 L2602 937" stroke-width="1.1"/>
<path d="M2675.5 918.2 L2674.3 934.9" stroke-width="1.1"/>
<path d="M2668.3 934.7 L2680.3 935.1" stroke-width="1.1"/>
<path d="M2660.4 939.4 L2690.4 940.4" stroke-width="1.1"/>
<path d="M2652.6 944.1 L2700.6 945.8" stroke-width="1.1"/>
<path d="M2204.5 895.1 L2204.5 913" stroke-width="1.1"/>
<path d="M2199.6 912.3 L2209.5 913.7" stroke-width="1.1"/>
<path d="M2195.1 915.7 L2216.9 918.7" stroke-width="1.1"/>
<path d="M2190.7 919 L2224.3 923.8" stroke-width="1.1"/>
<path d="M2289.3 907.8 L2286.1 927.7" stroke-width="1.1"/>
<path d="M2281.2 926.9 L2291.1 928.5" stroke-width="1.1"/>
<path d="M2276.1 930.2 L2297.9 933.6" stroke-width="1.1"/>
<path d="M2271.1 933.4 L2304.6 938.7" stroke-width="1.1"/>
<path d="M2385.7 926.9 L2383.7 943.6" stroke-width="1.1"/>
<path d="M2378.7 942.8 L2388.6 944.4" stroke-width="1.1"/>
<path d="M2373.8 946.1 L2395.6 949.6" stroke-width="1.1"/>
<path d="M2368.9 949.4 L2402.5 954.7" stroke-width="1.1"/>
<path d="M2004.3 843.3 L2013.5 823.4 L2016.2 844.1 L2023.4 844.1" stroke-width="1"/>
<path d="M2071.2 861.2 C2067.9 867.5 2059.9 886.1 2051.3 899 C2042.6 912 2029.7 926.2 2019.4 938.9 C2009.1 951.5 1994.5 968.7 1989.6 974.7" stroke-width="2.2"/>
<path d="M2087.1 865.2 C2083.8 870.8 2076.5 885.4 2067.2 899 C2057.9 912.6 2039 936.9 2031.4 946.8 C2023.7 956.8 2023.1 956.8 2021.4 958.8" stroke-width="1.1"/>
<path d="M2099 867.2 C2095.1 873.8 2082.5 895.1 2075.2 907 C2067.9 918.9 2059.9 931.9 2055.3 938.9 C2050.6 945.8 2048.6 947.1 2047.3 948.8" stroke-width="1.1"/>
<path d="M2115 869.2 C2111.7 874.2 2101 888.1 2095.1 899 C2089.1 910 2081.8 928.9 2079.1 934.9" stroke-width="1.1"/>
<path d="M2128.9 871.2 C2125.9 875.8 2115.6 889.8 2111 899 C2106.3 908.3 2102.7 922.3 2101 926.9" stroke-width="1.1"/>
<path d="M2138.9 870.4 C2136.2 873.5 2126.6 883.7 2122.9 889.1 C2119.3 894.5 2118 900.7 2117 903" stroke-width="1.1"/>
<path d="M2449.4 956.8 L2477.2 984.6" stroke-width="1.1"/>
<path d="M2461.3 952.8 L2521 996.6" stroke-width="1.1"/>
<path d="M2485.2 946.8 C2493.8 953.5 2518.7 974 2536.9 986.6 C2555.2 999.2 2585 1016.5 2594.7 1022.5" stroke-width="2.2"/>
<path d="M2505.1 944.8 C2517 951.8 2554.2 972 2576.8 986.6 C2599.3 1001.2 2629.8 1024.8 2640.4 1032.4" stroke-width="1.1"/>
<path d="M2529 934.9 C2543.6 942.2 2592 964.7 2616.6 978.7 C2641.1 992.6 2659 1005.2 2676.3 1018.5 C2693.5 1031.7 2710.1 1048.9 2720.1 1058.3 C2730 1067.7 2733.3 1072.2 2736 1075" stroke-width="1.1"/>
<path d="M2612.6 950.8 C2623.2 956.8 2655.7 972.7 2676.3 986.6 C2696.8 1000.6 2721.4 1019.7 2736 1034.4 C2750.6 1049.1 2755.4 1066.6 2763.9 1075 C2772.3 1083.4 2782.8 1083 2786.5 1084.6" stroke-width="1.1"/>
<path d="M2690.2 954.8 C2697.8 961.4 2721.7 980 2736 994.6 C2750.3 1009.2 2764.5 1029 2775.8 1042.4 C2787.1 1055.8 2797.6 1066.9 2803.7 1075 C2809.8 1083.1 2811 1088.3 2812.4 1090.9" stroke-width="2.2"/>
<path d="M2648.4 948.8 C2659.7 956.4 2698.2 979.7 2716.1 994.6 C2734 1009.5 2744.9 1025 2755.9 1038.4 C2766.8 1051.8 2777.5 1068.9 2781.8 1075" stroke-width="1.1"/>
<path d="M2724 948.8 C2732.7 955.1 2760.5 973 2775.8 986.6 C2791.1 1000.2 2804.3 1015.7 2815.6 1030.4 C2826.9 1045.1 2834.7 1061.1 2843.5 1075 C2852.2 1088.9 2864 1107.2 2868.2 1113.6" stroke-width="1.1"/>
<path d="M2795.7 962.7 C2802.3 969.4 2822.9 986.6 2835.5 1002.5 C2848.1 1018.5 2862 1042.4 2871.3 1058.3 C2880.6 1074.2 2884.5 1085 2891.2 1098.1 C2898 1111.2 2908.5 1130.3 2911.9 1136.7" stroke-width="1.1"/>
<path d="M2847.5 958.8 C2848.8 966.1 2849.4 986 2855.4 1002.5 C2861.4 1019.1 2877.3 1046.2 2883.3 1058.3 C2889.3 1070.4 2889.9 1072.2 2891.2 1075" stroke-width="1.1"/>
<path d="M2875.3 958.8 C2877.3 966.1 2883.1 990.6 2887.3 1002.5 C2891.4 1014.5 2897.9 1025.8 2900 1030.4" stroke-width="1.1"/>
<path d="M1682.8 856.4 C1687.6 857.2 1703 857.5 1711.5 861.2 C1720 864.9 1728.2 871 1733.8 878.7 C1739.3 886.4 1742.8 896.2 1744.9 907.4 C1747 918.5 1747.3 932.3 1746.5 945.6 C1745.7 958.9 1742 974.3 1740.1 987 C1738.3 999.7 1735.4 1010.9 1735.4 1022 C1735.4 1033.2 1737.7 1044.2 1740.1 1053.9 C1742.5 1063.5 1748.1 1075.6 1749.7 1080" stroke-width="2.4"/>
<path d="M1663.7 881.9 C1670.1 882.4 1692.1 880.8 1701.9 885.1 C1711.7 889.3 1718.1 898.4 1722.6 907.4 C1727.1 916.4 1728.7 927.6 1729 939.2 C1729.2 950.9 1726.1 964.7 1724.2 977.5 C1722.3 990.2 1718.1 1002.9 1717.8 1015.7 C1717.6 1028.4 1720 1043.2 1722.6 1053.9 C1725.3 1064.6 1731.9 1075.6 1733.8 1080" stroke-width="1.1"/>
<path d="M1647.8 901 C1654.1 902.1 1676.7 902.6 1686 907.4 C1695.3 912.2 1700.1 920.1 1703.5 929.7 C1707 939.2 1707 952.5 1706.7 964.7 C1706.4 976.9 1701.6 990.2 1701.9 1002.9 C1702.2 1015.7 1704.6 1028.3 1708.3 1041.1 C1712 1054 1721.5 1073.5 1724.2 1080" stroke-width="1.1"/>
<path d="M1625.5 928.1 C1631.8 929.4 1654.1 931 1663.7 936.1 C1673.2 941.1 1678.6 949.3 1682.8 958.3 C1687 967.4 1685.5 977.5 1689.2 990.2 C1692.9 1002.9 1700.3 1019.8 1705.1 1034.8 C1709.9 1049.7 1715.7 1072.5 1717.8 1080" stroke-width="1.1"/>
<path d="M1600 953.6 C1606.4 955.4 1628.1 959.1 1638.2 964.7 C1648.3 970.3 1654.1 977.5 1660.5 987 C1666.9 996.6 1670.6 1008.8 1676.4 1022 C1682.3 1035.3 1691.3 1057 1695.5 1066.6 C1699.8 1076.3 1700.8 1077.8 1701.9 1080" stroke-width="1.1"/>
<path d="M1600 987 C1604.2 988.6 1617.5 990.7 1625.5 996.6 C1633.4 1002.4 1640.9 1012 1647.8 1022 C1654.7 1032.1 1661.6 1047.4 1666.9 1057.1 C1672.2 1066.7 1677.5 1076.2 1679.6 1080" stroke-width="2.4"/>
<path d="M1733.8 861.2 C1738 865.2 1752.1 876.3 1759.2 885.1 C1766.4 893.9 1774.4 903.7 1776.8 913.8 C1779.1 923.8 1775.4 933.9 1773.6 945.6 C1771.7 957.3 1768 971.1 1765.6 983.8 C1763.2 996.6 1761.4 1006 1759.2 1022 C1757.1 1038.1 1753.9 1070.3 1752.9 1080" stroke-width="3"/>
<path d="M1749.7 848.5 C1753.4 853 1765.1 865.2 1772 875.5 C1778.9 885.9 1787.9 904.7 1791.1 910.6" stroke-width="2"/>
<path d="M1791.1 910.6 C1790.6 913.8 1790 919.6 1787.9 929.7 C1785.8 939.8 1781.5 955.7 1778.3 971.1 C1775.2 986.5 1771.4 1003.9 1768.8 1022 C1766.1 1040.2 1763.5 1070.3 1762.4 1080" stroke-width="1.6"/>
<path d="M1756.1 888.3 C1757.6 893.1 1764.8 906.3 1765.6 916.9 C1766.4 927.6 1763.2 940.3 1760.8 952 C1758.4 963.7 1753.4 975.3 1751.3 987 C1749.2 998.7 1747.3 1014.1 1748.1 1022 C1748.9 1030 1754.7 1032.7 1756.1 1034.8" stroke-width="1.1"/>
<path d="M1819.7 807.1 C1818.7 813.2 1815 830.7 1813.4 843.7 C1811.8 856.7 1812.3 872.9 1810.2 885.1 C1808.1 897.3 1803.8 910.8 1800.6 916.9 C1797.5 923 1792.7 920.9 1791.1 921.7" stroke-width="1.1"/>
<path d="M1859.6 813.4 C1856.1 821.1 1845.5 842.9 1838.9 859.6 C1832.2 876.3 1825.6 897.3 1819.7 913.8 C1813.9 930.2 1809.1 946.7 1803.8 958.3 C1798.5 970 1792.4 978.8 1787.9 983.8 C1783.4 988.9 1778.6 987.8 1776.8 988.6" stroke-width="1.1"/>
<path d="M1924.8 786.4 C1921.7 792.2 1914.2 806.5 1905.7 821.4 C1897.2 836.3 1884.5 857 1873.9 875.5 C1863.3 894.1 1851.6 914.8 1842 932.9 C1832.5 950.9 1825.1 969 1816.6 983.8 C1808.1 998.7 1799 1013.3 1791.1 1022 C1783.1 1030.8 1772.5 1034 1768.8 1036.4" stroke-width="1.1"/>
<path d="M1947.1 791.1 C1945 798.8 1941.3 821.7 1934.4 837.3 C1927.5 853 1916.3 869.2 1905.7 885.1 C1895.1 901 1882.4 916.4 1870.7 932.9 C1859 949.3 1846.8 965.8 1835.7 983.8 C1824.5 1001.9 1812.3 1025.1 1803.8 1041.1 C1795.3 1057.2 1787.9 1073.5 1784.7 1080" stroke-width="2.4"/>
<path d="M1969.4 802.3 C1966.2 810.8 1958.8 835.7 1950.3 853.2 C1941.8 870.8 1930.1 889.9 1918.5 907.4 C1906.8 924.9 1893 940.3 1880.3 958.3 C1867.5 976.4 1851.9 1002.1 1842 1015.7 C1832.2 1029.3 1829.2 1028.6 1821 1039.9 C1812.8 1051.1 1797.7 1076 1793 1083.2" stroke-width="1.1"/>
<path d="M1999.7 803.9 C1995.7 812.1 1985.1 834.9 1975.8 853.2 C1966.5 871.6 1956.2 894.1 1943.9 913.8 C1931.7 933.4 1915.8 954.1 1902.5 971.1 C1889.3 988.1 1874.9 1003.5 1864.3 1015.7 C1853.7 1027.9 1846.9 1033.1 1838.9 1044.3 C1830.8 1055.6 1819.7 1076.7 1815.9 1083.2" stroke-width="1.1"/>
<path d="M2009.2 853.2 C2004.7 862.3 1993 888.8 1982.2 907.4 C1971.3 926 1957.7 947.7 1943.9 964.7 C1930.1 981.7 1912.6 995 1899.4 1009.3 C1886.1 1023.6 1873.1 1040.4 1864.3 1050.7 C1855.6 1061.1 1849.7 1068 1846.8 1071.4" stroke-width="1.1"/>
<path d="M2044.3 835.7 C2039.2 846.1 2024.4 879 2014 897.8 C2003.7 916.7 1993.8 932.3 1982.2 948.8 C1970.5 965.2 1956.7 983.8 1943.9 996.6 C1931.2 1009.3 1915.8 1018.3 1905.7 1025.2 C1895.6 1032.1 1887.2 1035.8 1883.4 1038" stroke-width="1.1"/>
<path d="M1774.5 960.9 L1765.6 1009.3" stroke-width="6"/>
<path d="M1794.3 799.1 L1880.3 810.3 L1913.7 783.8 L1999.7 800.7"/>
<path d="M1752.7 1078.2 L1747.1 1126.6" stroke-width="3"/>
<path d="M1762.4 1080 L1759.9 1121.5" stroke-width="1.6"/>
<path d="M1740.8 1078.2 C1741.4 1079.5 1742.9 1083.1 1744.6 1085.9 C1746.3 1088.6 1749.9 1093.3 1751 1094.8" stroke-width="2.4"/>
<path d="M1733.6 1080 C1735 1083.1 1739.6 1094 1742 1098.6 C1744.5 1103.2 1747.3 1106 1748.4 1107.5" stroke-width="1.1"/>
<path d="M1724.2 1080 C1725.1 1083.1 1727 1091 1729.3 1098.6 C1731.6 1106.2 1736.7 1120.9 1738.2 1125.4" stroke-width="1.1"/>
<path d="M1717.8 1080 C1718.5 1084.4 1720 1097.2 1721.7 1106.2 C1723.4 1115.3 1727 1129.6 1728 1134.3" stroke-width="1.1"/>
<path d="M1702 1080 C1703.2 1086.1 1706.9 1105.9 1708.9 1116.4 C1710.9 1127 1713.2 1138.7 1714 1143.2" stroke-width="1.1"/>
<path d="M1679.6 1080 C1682 1085.6 1689.6 1103.6 1693.6 1113.9 C1697.7 1124.2 1701.7 1135.5 1703.8 1141.9 C1705.9 1148.3 1705.9 1150.4 1706.4 1152.1" stroke-width="2.4"/>
<path d="M1784.6 1080 C1782.6 1081.4 1776.3 1085.3 1772.6 1088.4 C1768.9 1091.5 1764.1 1096.9 1762.4 1098.6" stroke-width="2.4"/>
<path d="M1793 1083.3 L1771.3 1115.2" stroke-width="1.1"/>
<path d="M1815.9 1083.3 L1809.6 1094.8" stroke-width="1.1"/>
<path d="M1546.5 1011.5 C1550.4 1011.4 1562.5 1010.1 1569.9 1010.9 C1577.3 1011.7 1583.9 1013.6 1591 1016.2 C1598.1 1018.9 1604.3 1022.8 1612.3 1026.8 C1620.3 1030.8 1630.5 1032.7 1638.9 1040 C1647.4 1047.3 1656.4 1059.6 1663 1070.6 C1669.6 1081.6 1674.2 1095.2 1678.3 1106.2 C1682.3 1117.2 1685.2 1128.1 1687.3 1136.8 C1689.3 1145.5 1690 1154.9 1690.6 1158.5" stroke-width="1.1"/>
<path d="M1538 1040 C1542.6 1039 1556.8 1034.9 1565.6 1034.3 C1574.4 1033.7 1584.6 1035.5 1591 1036.4 C1597.4 1037.4 1599.4 1039 1603.8 1040 C1608.2 1041 1609.9 1037.8 1617.2 1042.5 C1624.5 1047.2 1639.7 1058.7 1647.8 1068 C1655.9 1077.3 1660.9 1088 1665.6 1098.6 C1670.3 1109.2 1673.3 1120.7 1675.8 1131.7 C1678.3 1142.7 1679.6 1159.3 1680.4 1164.8" stroke-width="1.1"/>
<path d="M1692.4 1055.3 L1697.5 1040 L1702.5 1055.8" stroke-width="1.1"/>
<path d="M1698.7 1057.3 L1710.2 1057.3" stroke-width="1.1"/>
<path d="M1800 681 C1810.6 675.6 1840.9 659.9 1863.7 648.5 C1886.5 637.1 1914.1 623 1936.9 612.5 C1959.8 602.1 1978.9 593.7 2000.6 586.1 C2022.4 578.5 2047.9 571.3 2067.5 567 C2087.2 562.8 2104.7 562.2 2118.5 560.6 C2132.3 559 2145 558 2150.3 557.5" stroke-width="3.2"/>
<circle cx="1870.1" cy="644.4" r="2.8" fill="#000" stroke="none"/>
<circle cx="1939.2" cy="608.4" r="2.8" fill="#000" stroke="none"/>
<circle cx="2000.6" cy="582.9" r="2.8" fill="#000" stroke="none"/>
<circle cx="2066.9" cy="564.8" r="2.8" fill="#000" stroke="none"/>
<path d="M1800 672.1 C1810.6 666.7 1842.5 649.8 1863.7 639.6 C1884.9 629.4 1914.9 615.8 1927.4 611 C1939.9 606.1 1937.5 609.5 1938.5 610.3 C1939.6 611.2 1946.2 609.3 1933.8 616.1 C1921.3 622.8 1883.9 640.4 1863.7 650.8 C1843.5 661.2 1823.1 673.5 1812.7 678.5 C1802.4 683.4 1803.5 680.1 1801.6 680.4" stroke-width="1.1"/>
<path d="M2284.1 560 C2291.5 562.4 2311.7 568.8 2328.7 574.3 C2345.6 579.9 2366.9 586.5 2386 593.4 C2405.1 600.3 2423.1 608.3 2443.3 615.7 C2463.5 623.2 2480.9 628.7 2507 638 C2533.1 647.3 2584.5 665.9 2600 671.5" stroke-width="2.6"/>
<circle cx="2328" cy="572.1" r="2.6" fill="#000" stroke="none"/>
<circle cx="2386.9" cy="591.8" r="2.6" fill="#000" stroke="none"/>
<circle cx="2443.3" cy="614.8" r="2.6" fill="#000" stroke="none"/>
<circle cx="2507.6" cy="637.1" r="2.6" fill="#000" stroke="none"/>
<circle cx="2561.8" cy="654.9" r="2.6" fill="#000" stroke="none"/>
<path d="M2284.1 560 C2298.9 563.1 2342.5 571 2373.2 578.5 C2404 585.9 2442.8 597.2 2468.8 604.6 C2494.8 612 2519.2 619.7 2529.3 622.7" stroke-width="1.1"/>
<path d="M2478.3 630.1 L2519.7 625.3 L2532.5 629.4 L2600 655.5" stroke-width="1.1"/>
<path d="M1800 744.7 L1911.5 698.5" stroke-width="2.6"/>
<circle cx="1927.4" cy="691.2" r="1.6" fill="#000" stroke="none"/>
<path d="M1944.9 683.6 C1961.1 678.6 2013.1 661.5 2042 653.9 C2071 646.4 2090.9 642 2118.5 638 C2146.1 634 2192.8 631.4 2207.6 630.1" stroke-width="2.6"/>
<circle cx="2225.2" cy="630.7" r="1.6" fill="#000" stroke="none"/>
<path d="M2245.9 633.9 C2261.8 635.9 2309.6 640.3 2341.4 646 C2373.2 651.7 2403.5 659.9 2436.9 668.3 C2470.4 676.7 2524.5 691.6 2542 696.3" stroke-width="2.6"/>
<circle cx="2562.7" cy="703.3" r="1.6" fill="#000" stroke="none"/>
<path d="M2024.5 614.8 L2043.6 687.4" stroke-width="1.6"/>
<path d="M2295.2 609.4 L2287.3 669.9" stroke-width="1.6"/>
<text x="2022.9" y="687.5" font-size="25" text-anchor="middle" transform="rotate(-76 2022.9 678.5)" stroke="#000" stroke-width="1">6</text>
<text x="2026.8" y="665.1" font-size="25" text-anchor="middle" transform="rotate(-76 2026.8 665.1)" stroke="#000" stroke-width="1">.</text>
<text x="2019.7" y="659.8" font-size="25" text-anchor="middle" transform="rotate(-76 2019.7 650.8)" stroke="#000" stroke-width="1">5</text>
<text x="2274.5" y="660.4" font-size="25" text-anchor="middle" transform="rotate(-84 2274.5 651.4)" stroke="#000" stroke-width="1">6</text>
<text x="2280.9" y="640.3" font-size="25" text-anchor="middle" transform="rotate(-84 2280.9 640.3)" stroke="#000" stroke-width="1">.</text>
<text x="2277.7" y="636.8" font-size="25" text-anchor="middle" transform="rotate(-84 2277.7 627.8)" stroke="#000" stroke-width="1">5</text>
<text x="2172" y="602.4" font-size="30" letter-spacing="2" stroke="#000" stroke-width="0.5">As</text>
<path d="M1800 782.9 C1815.9 777.6 1858.4 763.3 1895.5 751.1 C1932.7 738.9 1983.1 721.1 2022.9 709.7 C2062.7 698.3 2102.5 687.5 2134.4 682.6 C2166.2 677.7 2190.1 679.9 2214 680.4 C2237.9 680.9 2251.2 682 2277.7 685.8 C2304.2 689.6 2341.4 696.9 2373.2 703.3 C2405.1 709.7 2445.4 719 2468.8 724.3 C2492.2 729.6 2506.2 733.2 2513.7 735" stroke-width="1.6" stroke-dasharray="18 8"/>
<path d="M1800 790.9 C1815.9 785.3 1858.4 769.8 1895.5 757.5 C1932.7 745.1 1983.1 727.8 2022.9 716.7 C2062.7 705.5 2102.5 695.1 2134.4 690.6 C2166.2 686 2190.1 688.6 2214 689.3 C2237.9 690 2251.2 690.9 2277.7 694.7 C2304.2 698.5 2341.4 705.8 2373.2 712.2 C2405.1 718.7 2445.8 728.4 2468.8 733.6 C2491.7 738.8 2504 741.8 2511 743.5"/>
<path d="M1800 795.7 L1879.6 810 L1911.5 784.5 L2000.6 800.4"/>
<path d="M1873.2 770.2 L1874.8 786.1" stroke-width="1.1"/>
<path d="M1870 787.4 L1879.7 784.8" stroke-width="1.1"/>
<path d="M1866.1 792.6 L1887.3 786.9" stroke-width="1.1"/>
<path d="M1862.1 797.7 L1895 788.9" stroke-width="1.1"/>
<text x="2505.4" y="658.7" font-size="22" transform="rotate(20 2505.4 658.7)" stroke="#000" stroke-width="1">R</text>
<path d="M2133.5 559 C2134.6 558.9 2127.9 559.3 2139.9 558.6 C2151.9 557.8 2183.4 554.6 2205.7 554.3 C2228 554 2259.2 555.6 2273.7 556.9 C2288.2 558.1 2287.8 560.4 2292.8 561.7 C2297.7 563.1 2301.6 564.4 2303.4 564.9" stroke-width="3"/>
<circle cx="2139.9" cy="555.8" r="2.8" fill="#000" stroke="none"/>
<circle cx="2205.7" cy="552.2" r="2.8" fill="#000" stroke="none"/>
<circle cx="2273.7" cy="555.6" r="2.8" fill="#000" stroke="none"/>
<circle cx="2220.6" cy="554.3" r="1.8" fill="#000" stroke="none"/>
<path d="M2520.7 625.5 C2540.1 632.3 2594.7 651.3 2636.9 666.3 C2679.1 681.3 2730.3 701.7 2773.9 715.7 C2817.5 729.6 2853.4 735.1 2898.6 750.1 C2943.8 765 3020.7 796.1 3045.1 805.3"/>
<path d="M3045.1 805.3 L3046.2 812.7 L3055.7 815.9" stroke-width="1.6"/>
<path d="M3055.7 815.9 C3064.6 819.8 3091.3 831.9 3108.8 839.7 C3126.3 847.4 3151.9 858.2 3160.8 862.2 C3169.8 866.1 3154.2 859.6 3162.4 863.4 C3170.6 867.1 3193.8 877.3 3210.2 884.7 C3226.5 892.1 3244.3 900.3 3260.5 908 C3276.7 915.7 3292.1 923.6 3307.3 930.9 C3322.6 938.2 3337.5 944.8 3351.9 951.6 C3366.3 958.4 3382 965.6 3393.9 971.7 C3405.9 977.8 3418.6 985.5 3423.6 988.2" stroke-width="2.1"/>
<path d="M3423.6 988.2 L3428.3 985 L3445.9 996.2" stroke-width="1.6"/>
<circle cx="3057.4" cy="816.5" r="3.2" fill="#000" stroke="none"/>
<circle cx="3108.8" cy="839.2" r="3.2" fill="#000" stroke="none"/>
<circle cx="3160.8" cy="861.5" r="3.2" fill="#000" stroke="none"/>
<circle cx="3162.4" cy="862.4" r="3.2" fill="#000" stroke="none"/>
<circle cx="3210.2" cy="883.8" r="3.2" fill="#000" stroke="none"/>
<circle cx="3260.5" cy="907" r="3.2" fill="#000" stroke="none"/>
<circle cx="3307.3" cy="929.9" r="3.2" fill="#000" stroke="none"/>
<circle cx="3351.9" cy="950.6" r="3.2" fill="#000" stroke="none"/>
<circle cx="3393.9" cy="970.7" r="3.2" fill="#000" stroke="none"/>
<path d="M2498.4 643.4 L2611.5 675.9" stroke-width="2.6"/>
<circle cx="2508" cy="637.6" r="2.6" fill="#000" stroke="none"/>
<circle cx="2562.1" cy="654.5" r="2.6" fill="#000" stroke="none"/>
<circle cx="2614.6" cy="673.6" r="2.6" fill="#000" stroke="none"/>
<circle cx="2629.9" cy="673.6" r="4.2" stroke-width="1.2" fill="none"/>
<path d="M2627.4 680.6 C2646.5 687 2721.6 711.9 2742 718.9 C2762.5 725.8 2732.7 716.7 2750 722.5 C2767.3 728.2 2829.6 748.1 2845.5 753.2"/>
<path d="M2845.5 753.2 L2847.7 761.7" stroke-width="2"/>
<path d="M2847.7 761.7 C2866.8 769 2922 789.5 2962.3 805.3 C3002.7 821 3051.6 840.8 3089.7 856.2 C3127.8 871.7 3158.3 882.4 3191.1 898.1 C3223.9 913.8 3255.5 933.5 3286.6 950.3 C3317.7 967.1 3347.7 982.2 3377.7 998.7 C3407.7 1015.3 3452 1041.2 3466.9 1049.7" stroke-width="2"/>
<path d="M2537.6 635.5 L2535 643.1" stroke-width="1.1"/>
<path d="M2531.2 641.8 L2538.8 644.4" stroke-width="1.1"/>
<path d="M2524.5 642.8 L2543.4 649.3" stroke-width="1.1"/>
<path d="M2517.8 643.9 L2548.1 654.3" stroke-width="1.1"/>
<path d="M2585.4 651.4 L2582.8 659" stroke-width="1.1"/>
<path d="M2579 657.7 L2586.6 660.3" stroke-width="1.1"/>
<path d="M2572.3 658.8 L2591.2 665.3" stroke-width="1.1"/>
<path d="M2565.6 659.8 L2595.8 670.2" stroke-width="1.1"/>
<path d="M2674.6 678.5 L2672 686.1" stroke-width="1.1"/>
<path d="M2668.2 684.7 L2675.8 687.4" stroke-width="1.1"/>
<path d="M2661.5 685.8 L2680.4 692.3" stroke-width="1.1"/>
<path d="M2654.8 686.9 L2685 697.3" stroke-width="1.1"/>
<path d="M2731.9 696 L2729.3 703.6" stroke-width="1.1"/>
<path d="M2725.5 702.3 L2733.1 704.9" stroke-width="1.1"/>
<path d="M2718.8 703.3 L2737.7 709.8" stroke-width="1.1"/>
<path d="M2712.1 704.4 L2742.3 714.8" stroke-width="1.1"/>
<path d="M2780.5 709.7 L2777.6 717.2" stroke-width="1.1"/>
<path d="M2773.9 715.7 L2781.3 718.6" stroke-width="1.1"/>
<path d="M2767.1 716.6 L2785.8 723.7" stroke-width="1.1"/>
<path d="M2760.4 717.4 L2790.2 728.9" stroke-width="1.1"/>
<path d="M2832.5 728.2 L2829.6 735.6" stroke-width="1.1"/>
<path d="M2825.9 734.2 L2833.4 737.1" stroke-width="1.1"/>
<path d="M2819.1 735 L2837.8 742.2" stroke-width="1.1"/>
<path d="M2812.4 735.9 L2842.3 747.3" stroke-width="1.1"/>
<path d="M2902.5 757.5 L2899.7 764.9" stroke-width="1.1"/>
<path d="M2895.9 763.5 L2903.4 766.4" stroke-width="1.1"/>
<path d="M2889.2 764.3 L2907.9 771.5" stroke-width="1.1"/>
<path d="M2882.5 765.2 L2912.3 776.6" stroke-width="1.1"/>
<path d="M2963.1 781.2 L2960.2 788.7" stroke-width="1.1"/>
<path d="M2956.5 787.3 L2963.9 790.1" stroke-width="1.1"/>
<path d="M2949.7 788.1 L2968.4 795.3" stroke-width="1.1"/>
<path d="M2943 788.9 L2972.8 800.4" stroke-width="1.1"/>
<path d="M3025.7 802.5 L3022.8 809.9" stroke-width="1.1"/>
<path d="M3019.1 808.5 L3026.6 811.4" stroke-width="1.1"/>
<path d="M3012.3 809.3 L3031 816.5" stroke-width="1.1"/>
<path d="M3005.6 810.2 L3035.5 821.6" stroke-width="1.1"/>
<path d="M3085.1 832.2 L3082.3 839.7" stroke-width="1.1"/>
<path d="M3078.5 838.2 L3086 841.1" stroke-width="1.1"/>
<path d="M3071.8 839.1 L3090.5 846.2" stroke-width="1.1"/>
<path d="M3065 839.9 L3094.9 851.4" stroke-width="1.1"/>
<path d="M3145.6 859.8 L3142.8 867.3" stroke-width="1.1"/>
<path d="M3139 865.8 L3146.5 868.7" stroke-width="1.1"/>
<path d="M3132.3 866.7 L3151 873.8" stroke-width="1.1"/>
<path d="M3125.6 867.5 L3155.4 879" stroke-width="1.1"/>
<path d="M3146.7 863.8 L3143.3 871" stroke-width="1.1"/>
<path d="M3139.7 869.3 L3146.9 872.7" stroke-width="1.1"/>
<path d="M3132.9 869.7 L3151 878.1" stroke-width="1.1"/>
<path d="M3126.1 870.1 L3155.1 883.6" stroke-width="1.1"/>
<path d="M3209.8 892.4 L3206.4 899.7" stroke-width="1.1"/>
<path d="M3202.7 898 L3210 901.4" stroke-width="1.1"/>
<path d="M3196 898.4 L3214.1 906.8" stroke-width="1.1"/>
<path d="M3189.2 898.7 L3218.2 912.2" stroke-width="1.1"/>
<path d="M3266.1 921.1 L3262.7 928.3" stroke-width="1.1"/>
<path d="M3259.1 926.7 L3266.4 930" stroke-width="1.1"/>
<path d="M3252.3 927 L3270.4 935.5" stroke-width="1.1"/>
<path d="M3245.5 927.4 L3274.5 940.9" stroke-width="1.1"/>
<path d="M3320.3 948.2 L3316.9 955.4" stroke-width="1.1"/>
<path d="M3313.3 953.7 L3320.5 957.1" stroke-width="1.1"/>
<path d="M3306.5 954.1 L3324.6 962.5" stroke-width="1.1"/>
<path d="M3299.7 954.5 L3328.7 968" stroke-width="1.1"/>
<path d="M3374.4 975.2 L3371 982.5" stroke-width="1.1"/>
<path d="M3367.4 980.8 L3374.6 984.2" stroke-width="1.1"/>
<path d="M3360.6 981.2 L3378.7 989.6" stroke-width="1.1"/>
<path d="M3353.8 981.5 L3382.8 995" stroke-width="1.1"/>
<path d="M2500 687 L2541.4 696.6" stroke-width="2.6"/>
<path d="M2592.4 717.3 C2610.9 723.6 2663.6 741.3 2703.8 755.5 C2744.1 769.6 2802.5 790.2 2833.9 802.1 C2865.3 813.9 2882.5 822.4 2892.3 826.5" stroke-width="2.6"/>
<path d="M2908.2 833.3 L2915.6 836.1" stroke-width="2.6"/>
<path d="M2929.4 842.4 C2944.1 848.3 3002.8 871.5 3017.5 877.5 C3032.2 883.4 3017.5 878.2 3017.5 878.3" stroke-width="2.6"/>
<circle cx="3036.6" cy="885.4" r="1.8" fill="#000" stroke="none"/>
<path d="M3054.1 892.7 L3159.2 938.9" stroke-width="2.6"/>
<circle cx="3178.3" cy="947.8" r="1.8" fill="#000" stroke="none"/>
<path d="M3192.7 956.4 L3281.8 1000" stroke-width="2.6"/>
<path d="M2601.9 688.6 L2582.8 741.1" stroke-width="1.6"/>
<text x="2584.4" y="739.6" font-size="24" letter-spacing="2" transform="rotate(-72 2584.4 739.6)" stroke="#000" stroke-width="1">5.5</text>
<text x="2706.4" y="749.1" font-size="30" transform="rotate(18 2706.4 749.1)" stroke="#000" stroke-width="1">7</text>
<path d="M2849.8 763.9 L2827.5 824.4" stroke-width="2.4"/>
<text x="2864.6" y="805.3" font-size="24" transform="rotate(-70 2864.6 805.3)" stroke="#000" stroke-width="1">5</text>
<text x="2846.6" y="837.1" font-size="24" transform="rotate(-70 2846.6 837.1)" stroke="#000" stroke-width="1">5</text>
<text x="2926.2" y="837.1" font-size="40" letter-spacing="3" transform="rotate(20 2926.2 837.1)" stroke="#000" stroke-width="0.8">As</text>
<path d="M2513.7 735 C2524.3 737.8 2545.5 740.9 2577.4 751.6 C2609.2 762.3 2662.3 783.9 2704.8 799.4 C2747.2 814.8 2791.3 829.7 2832.2 844.4 C2873 859 2911.4 872 2950 887.3 C2988.6 902.5 3018.9 915.5 3063.7 935.7 C3108.4 955.8 3171.4 986.1 3218.5 1008.3 C3265.5 1030.5 3309.2 1051.3 3345.9 1068.8 C3382.5 1086.3 3422.8 1105.9 3438.2 1113.4" stroke-width="1.6" stroke-dasharray="18 8"/>
<path d="M2511.8 743.3 L2519.7 745.1 L2527.5 746.8 L2535.2 748.5 L2542.8 750.3 L2550.4 752.3 L2558 754.4 L2565.5 756.7 L2573 759.1 L2580.4 761.6 L2587.9 764.3 L2595.3 767 L2602.8 769.7 L2610.2 772.5 L2617.7 775.4 L2625.2 778.2 L2632.6 781.1 L2640.1 784 L2647.6 786.8 L2655 789.7 L2662.5 792.6 L2670 795.4 L2677.5 798.3 L2685 801.1 L2692.5 803.9 L2700.1 806.7 L2707.6 809.4 L2715.2 812.2 L2722.7 814.9 L2730.3 817.5 L2737.8 820.2 L2745.4 822.9 L2752.9 825.5 L2760.5 828.2 L2768 830.8 L2775.6 833.5 L2783.1 836.1 L2790.7 838.7 L2798.2 841.4 L2805.8 844 L2813.3 846.7 L2820.8 849.4 L2828.3 852 L2835.9 854.7 L2843.4 857.4 L2851 860.1 L2858.5 862.8 L2866.1 865.4 L2873.6 868.1 L2881.1 870.8 L2888.6 873.5 L2896.2 876.2 L2903.7 878.9 L2911.1 881.6 L2918.6 884.4 L2926.1 887.2 L2933.5 890 L2940.9 892.8 L2948.3 895.7 L2955.8 898.7 L2963.2 901.7 L2970.5 904.6 L2977.9 907.7 L2985.3 910.7 L2992.6 913.8 L3000 916.9 L3007.3 920 L3014.6 923.2 L3021.9 926.4 L3029.2 929.6 L3036.5 932.8 L3043.8 936.1 L3051.1 939.3 L3058.4 942.6 L3065.6 945.9 L3072.9 949.2 L3080.2 952.5 L3087.4 955.9 L3094.6 959.2 L3101.9 962.6 L3109.1 966 L3116.4 969.4 L3123.6 972.8 L3130.8 976.2 L3138 979.6 L3145.3 983 L3152.5 986.4 L3159.7 989.9 L3167 993.3 L3174.2 996.7 L3181.4 1000.1 L3188.6 1003.6 L3195.9 1007 L3203.1 1010.4 L3210.3 1013.8 L3217.6 1017.3 L3224.8 1020.7 L3232 1024.1 L3239.3 1027.5 L3246.5 1030.9 L3253.7 1034.4 L3261 1037.8" stroke-width="1.2"/>
<path d="M3428.7 986.6 L3478 1021" stroke-width="1.2"/>
<path d="M3432.3 1008.2 L3428.7 1015.3" stroke-width="1.1"/>
<path d="M3425.1 1013.5 L3432.2 1017.1" stroke-width="1.1"/>
<path d="M3418.3 1013.6 L3436.1 1022.7" stroke-width="1.1"/>
<path d="M3411.5 1013.7 L3440 1028.3" stroke-width="1.1"/>
<path d="M3193 956.7 L3329.9 1025.8" stroke-width="2.6"/>
<circle cx="3344.3" cy="1035.4" r="1.8" fill="#000" stroke="none"/>
<path d="M3358.6 1043.3 L3446.2 1092.7" stroke-width="2.6"/>
<path d="M3312.4 1072 L3428.7 1127.7" stroke-width="1.2"/>
<path d="M3490.4 1000 L3466.9 1049.7"/>
<path d="M3462.4 1060.8 L3458.6 1068.8"/>
<path d="M2900 952.5 L2992.4 954.8" stroke-width="2.4"/>
<path d="M2992.4 954.8 C3014.1 963.7 3085.2 992.5 3122.9 1008.3 C3160.6 1024.1 3187.4 1033 3218.5 1049.7 C3249.5 1066.4 3294.1 1098.8 3309.2 1108.6" stroke-width="2.2"/>
<path d="M3266.2 1044.9 L3309.2 1108.6" stroke-width="1.6"/>
<path d="M3048.6 942.6 L3044.9 951" stroke-width="1.1"/>
<path d="M3040.7 949.1 L3049.1 952.8" stroke-width="1.1"/>
<path d="M3032.9 949.6 L3053.9 959" stroke-width="1.1"/>
<path d="M3025.1 950.2 L3058.7 965.2" stroke-width="1.1"/>
<path d="M3128.4 976.1 L3124.5 984.4" stroke-width="1.1"/>
<path d="M3120.4 982.5 L3128.7 986.3" stroke-width="1.1"/>
<path d="M3112.5 982.9 L3133.4 992.6" stroke-width="1.1"/>
<path d="M3104.7 983.3 L3138.1 998.8" stroke-width="1.1"/>
<path d="M3195.6 1011.2 L3191.4 1019.4" stroke-width="1.1"/>
<path d="M3187.3 1017.3 L3195.5 1021.5" stroke-width="1.1"/>
<path d="M3179.5 1017.5 L3200 1027.9" stroke-width="1.1"/>
<path d="M3171.7 1017.6 L3204.5 1034.3" stroke-width="1.1"/>
<path d="M3261 1051.1 L3256.7 1059.2" stroke-width="1.1"/>
<path d="M3252.6 1057.1 L3260.7 1061.4" stroke-width="1.1"/>
<path d="M3244.8 1057.1 L3265.1 1067.9" stroke-width="1.1"/>
<path d="M3237 1057.1 L3269.5 1074.4" stroke-width="1.1"/>
<path d="M3046.5 938.2 L3041.7 957.3" stroke-width="1.1"/>
<path d="M3126.8 974.8 L3122.9 987.6" stroke-width="1.1"/>
<path d="M3194.6 1006.7 L3188.2 1022.6" stroke-width="1.1"/>
<path d="M3261.5 1048.1 L3255.1 1062.4" stroke-width="1.1"/>
<path d="M3312.4 1072 L3339.5 1103.8 L3419.1 1154.8" stroke-width="2"/>
<path d="M3357.4 1100.8 L3353.8 1107" stroke-width="1.1"/>
<path d="M3350.7 1105.2 L3356.9 1108.8" stroke-width="1.1"/>
<path d="M3344.6 1105 L3360.2 1114" stroke-width="1.1"/>
<path d="M3338.5 1104.8 L3363.4 1119.2" stroke-width="1.1"/>
<path d="M3405.2 1127.8 L3401.6 1134.1" stroke-width="1.1"/>
<path d="M3398.5 1132.3 L3404.7 1135.9" stroke-width="1.1"/>
<path d="M3392.4 1132.1 L3407.9 1141.1" stroke-width="1.1"/>
<path d="M3386.2 1131.9 L3411.2 1146.3" stroke-width="1.1"/>
<path d="M2941.4 929.3 L2957.3 929.3"/>
<path d="M2933.4 936.9 L2962.1 937.9"/>
<path d="M2915.9 944.3 L2976.4 945.5"/>
<path d="M3454.1 1072 L3398.4 1200"/>
<path d="M2907 960.5 C2907 966.3 2905.8 985.5 2907 995.5 C2908.2 1005.6 2909.1 1014.1 2914.3 1021 C2919.5 1027.9 2927.3 1033.5 2938.2 1036.9 C2949.1 1040.4 2964.8 1040.1 2979.6 1041.7 C2994.5 1043.3 3010.9 1042 3027.4 1046.5 C3043.8 1051 3059.8 1060.3 3078.3 1068.8 C3096.9 1077.3 3120.8 1088.4 3138.9 1097.5 C3156.9 1106.5 3168 1113.9 3186.6 1122.9 C3205.2 1132 3229.1 1142.6 3250.3 1151.6 C3271.5 1160.6 3296 1169 3314 1177.1 C3332.1 1185.1 3346.3 1193.6 3358.6 1200 C3370.9 1206.4 3382.7 1212.7 3387.6 1215.3" stroke-width="2.4"/>
<path d="M2930.9 958.9 C2931.8 962.4 2931.2 973.5 2936.6 979.6 C2942.1 985.7 2948.6 991.8 2963.7 995.5 C2978.8 999.3 3006.2 998.7 3027.4 1001.9 C3048.6 1005.1 3069.9 1006.7 3091.1 1014.6 C3112.3 1022.6 3133.5 1039.1 3154.8 1049.7 C3176 1060.3 3197.2 1069.3 3218.5 1078.3 C3239.7 1087.4 3260.9 1093.2 3282.2 1103.8 C3303.4 1114.4 3328.9 1130.4 3345.9 1142 C3362.8 1153.7 3374 1167 3384.1 1173.9 C3394.2 1180.8 3402.7 1181.8 3406.4 1183.4" stroke-width="1.1"/>
<path d="M2900 1024.2 C2905.3 1028.5 2915.9 1043.3 2931.8 1049.7 C2947.8 1056.1 2974.3 1056.1 2995.5 1062.4 C3016.8 1068.8 3038 1077.8 3059.2 1087.9 C3080.5 1098 3101.7 1111.8 3122.9 1122.9 C3144.2 1134.1 3165.4 1145.2 3186.6 1154.8 C3207.9 1164.3 3232.8 1172.7 3250.3 1180.3 C3267.8 1187.8 3277.4 1190.2 3291.7 1200 C3306 1209.8 3323 1230.4 3336 1238.9 C3349 1247.3 3364.1 1248.9 3369.7 1251" stroke-width="1.1"/>
<path d="M2900 1062.4 C2910.6 1067.2 2942.5 1081.5 2963.7 1091.1 C2984.9 1100.6 3006.2 1109.7 3027.4 1119.7 C3048.6 1129.8 3069.9 1141 3091.1 1151.6 C3112.3 1162.2 3133.5 1171 3154.8 1183.4 C3176 1195.9 3194.6 1210.5 3218.5 1226.4 C3242.4 1242.4 3276.2 1264.9 3298.1 1279 C3320 1293 3341.1 1305.5 3349.7 1310.8" stroke-width="1.1"/>
<path d="M2900 1103.8 L2912.7 1137.3" stroke-width="1.1"/>
<path d="M2973.2 1164.3 C2979.6 1165.4 2997.1 1167 3011.5 1170.7 C3025.8 1174.4 3046 1180.7 3059.2 1186.6 C3072.5 1192.6 3077.8 1197.6 3091.1 1206.4 C3104.4 1215.1 3120 1225.2 3138.9 1239.2 C3157.7 1253.1 3193.5 1281.6 3204.5 1290.1" stroke-width="1.1"/>
<path d="M3016.2 1038.5 L3022.6 1014.6 L3029 1037.6" stroke-width="1.1"/>
<path d="M3016.2 1038.5 L3035.4 1038.5" stroke-width="1.1"/>
<path d="M3385.7 1229.1 L3260 1504"/>
<path d="M3394.1 1209.2 L3390.1 1217.5"/>
<path d="M3298.2 1270.9 L3303.3 1245 L3310.1 1270.1" stroke-width="1.1"/>
<path d="M3298.2 1270.9 L3320.1 1270.1" stroke-width="1.1"/>
<path d="M1479 1060 L1428 1088.7 L1319.7 1139.6 L1230.6 1133.2 L1195.5 1204.9 L1168.5 1217.6"/>
<path d="M1225.8 1145.4 C1232.4 1146.4 1251.8 1150.1 1265.6 1151.7 C1279.4 1153.3 1301.4 1154.4 1308.6 1154.9" stroke-width="2.4"/>
<path d="M1367.5 1134.8 C1373.4 1131.9 1391.9 1125 1402.5 1117.3 C1413.2 1109.6 1426.4 1093.4 1431.2 1088.7" stroke-width="2.4"/>
<path d="M1206.7 1182.6 C1211.2 1183.7 1225 1186.9 1233.8 1189 C1242.5 1191.1 1255 1194.3 1259.2 1195.4" stroke-width="2.4"/>
<path d="M1311.8 1199.5 C1318.9 1198.8 1339.6 1199 1354.8 1195.4 C1369.9 1191.7 1386.6 1185 1402.5 1177.8 C1418.5 1170.7 1434.4 1161.9 1450.3 1152.4 C1466.2 1142.8 1483.2 1129.5 1498.1 1120.5 C1513 1111.5 1527.3 1103.3 1539.5 1098.2 C1551.7 1093.2 1561.8 1090.8 1571.3 1090.3 C1580.9 1089.7 1588.9 1091.1 1596.8 1095 C1604.8 1099 1612.7 1106.2 1619.1 1114.1 C1625.5 1122.1 1630.8 1133.8 1635 1142.8 C1639.3 1151.8 1641.9 1161.1 1644.6 1168.3 C1647.2 1175.4 1649.9 1182.9 1651 1185.8" stroke-width="2.4"/>
<path d="M1168.5 1217.6 C1175.6 1218.7 1197.4 1221.6 1211.5 1224 C1225.5 1226.4 1246 1230.6 1252.9 1232" stroke-width="2.4"/>
<path d="M1316.6 1239.9 C1322.9 1239.1 1340.4 1238.3 1354.8 1235.2 C1369.1 1232 1386.6 1225.1 1402.5 1220.8 C1418.5 1216.6 1434.4 1212.2 1450.3 1209.7 C1466.2 1207.2 1484.8 1206.1 1498.1 1205.9 C1511.4 1205.6 1520.9 1206.4 1529.9 1208.1 C1539 1209.8 1545.4 1213.2 1552.2 1216.1 C1559 1218.9 1567.6 1223.5 1570.7 1225" stroke-width="2.4"/>
<path d="M1182.8 1275.9 C1190.2 1276.3 1216.2 1277.3 1227.4 1278.2 C1238.5 1279.1 1246 1280.8 1249.7 1281.3" stroke-width="2.4"/>
<path d="M1307 1289.3 C1309.7 1289.8 1316 1291.7 1322.9 1292.5 C1329.8 1293.3 1339.1 1293.9 1348.4 1294.1 C1357.7 1294.2 1373.6 1293.5 1378.7 1293.4" stroke-width="2.4"/>
<path d="M1222.6 1153.9 C1234 1155.8 1272.8 1162.8 1291.1 1165.1 C1309.4 1167.4 1319.2 1169.5 1332.5 1167.6 C1345.8 1165.8 1356.4 1161 1370.7 1153.9 C1385 1146.9 1402.5 1135.9 1418.5 1125.3 C1434.4 1114.7 1453 1100.1 1466.2 1090.3 C1479.5 1080.4 1484.8 1072.5 1498.1 1066.4 C1511.4 1060.3 1529.9 1055.2 1545.9 1053.6 C1561.8 1052 1577.7 1052.6 1593.6 1056.8 C1609.6 1061.1 1628.1 1069 1641.4 1079.1 C1654.7 1089.2 1665.3 1104.6 1673.2 1117.3 C1681.2 1130.1 1686.5 1149.2 1689.2 1155.5" stroke-width="1.1"/>
<path d="M1219.4 1161.9 C1231.4 1163.6 1270.6 1170.1 1291.1 1172.1 C1311.5 1174.1 1326.1 1176.5 1342 1174 C1358 1171.5 1371.2 1164.7 1386.6 1157.1 C1402 1149.5 1418.5 1138.8 1434.4 1128.5 C1450.3 1118.1 1467.3 1104.3 1482.2 1095 C1497 1085.7 1510.3 1078 1523.6 1072.7 C1536.8 1067.4 1549.6 1064.2 1561.8 1063.2 C1574 1062.1 1584.6 1062.1 1596.8 1066.4 C1609 1070.6 1623.9 1079.1 1635 1088.7 C1646.2 1098.2 1656.3 1111 1663.7 1123.7 C1671.1 1136.4 1677 1158.2 1679.6 1165.1" stroke-width="1.1"/>
<path d="M1214.6 1169.9 C1227.4 1171.6 1268.8 1178.5 1291.1 1180.4 C1313.4 1182.2 1331.4 1183.6 1348.4 1181 C1365.4 1178.5 1377.1 1172.5 1393 1165.1 C1408.9 1157.7 1427.5 1146.5 1443.9 1136.4 C1460.4 1126.3 1476.9 1113.3 1491.7 1104.6 C1506.6 1095.8 1520.4 1088.9 1533.1 1083.9 C1545.9 1078.8 1557 1075.4 1568.2 1074.3 C1579.3 1073.3 1589.4 1073.5 1600 1077.5 C1610.6 1081.5 1622.6 1089.5 1631.8 1098.2 C1641.1 1107 1649.4 1117.9 1655.7 1130.1 C1662.1 1142.3 1667.7 1164.6 1670.1 1171.5" stroke-width="1.1"/>
<path d="M1211.5 1176.2 C1224.7 1178.1 1267.7 1185.3 1291.1 1187.4 C1314.4 1189.5 1333.5 1191.6 1351.6 1189 C1369.6 1186.3 1383.4 1178.9 1399.4 1171.5 C1415.3 1164 1431.2 1154.2 1447.1 1144.4 C1463.1 1134.6 1480 1121.3 1494.9 1112.5 C1509.8 1103.8 1523.8 1096.8 1536.3 1091.8 C1548.8 1086.9 1559.4 1083.7 1569.7 1082.9 C1580.1 1082.1 1589.1 1083.2 1598.4 1087.1 C1607.7 1090.9 1617.5 1098 1625.5 1106.2 C1633.4 1114.4 1640.3 1124.5 1646.2 1136.4 C1652 1148.4 1658.1 1170.9 1660.5 1177.8" stroke-width="1.1"/>
<path d="M1203.5 1190.6 C1212.8 1192.7 1240.4 1200.6 1259.2 1203.3 C1278.1 1206.1 1299.6 1207.2 1316.6 1207.1 C1333.5 1207 1346.3 1206.1 1361.1 1202.7 C1376 1199.3 1390.3 1193.5 1405.7 1186.8 C1421.1 1180 1437.6 1171.1 1453.5 1161.9 C1469.4 1152.7 1486.4 1140.1 1501.3 1131.7 C1516.1 1123.2 1530.5 1115.5 1542.7 1111 C1554.9 1106.4 1565.5 1104.6 1574.5 1104.6 C1583.5 1104.6 1589.9 1106.7 1596.8 1111 C1603.7 1115.2 1610.6 1122.1 1615.9 1130.1 C1621.2 1138 1625.2 1148.6 1628.7 1158.7 C1632.1 1168.8 1635.3 1185.3 1636.6 1190.6" stroke-width="1.1"/>
<path d="M1200.3 1196.9 C1210.1 1199.1 1239.3 1206.6 1259.2 1209.7 C1279.1 1212.8 1302.2 1215.3 1319.7 1215.4 C1337.3 1215.5 1349.5 1213.7 1364.3 1210.3 C1379.2 1207 1393.5 1201.7 1408.9 1195.4 C1424.3 1189 1440.8 1180.3 1456.7 1172.1 C1472.6 1163.9 1489.6 1153.8 1504.5 1146 C1519.3 1138.2 1534.2 1129.8 1545.9 1125.3 C1557.5 1120.8 1566.6 1118.9 1574.5 1118.9 C1582.5 1118.9 1587.8 1121.3 1593.6 1125.3 C1599.5 1129.3 1605.3 1135.1 1609.6 1142.8 C1613.8 1150.5 1617 1162.4 1619.1 1171.5 C1621.2 1180.5 1621.8 1192.7 1622.3 1196.9" stroke-width="1.1"/>
<path d="M1195.5 1203.9 C1206.2 1206.1 1238 1213.5 1259.2 1216.7 C1280.5 1219.9 1304.9 1222.7 1322.9 1223.1 C1341 1223.4 1352.7 1221.8 1367.5 1218.6 C1382.4 1215.4 1396.7 1209.8 1412.1 1203.9 C1427.5 1198.1 1443.9 1190.7 1459.9 1183.6 C1475.8 1176.5 1493.3 1167.8 1507.6 1161.3 C1522 1154.7 1535.2 1148 1545.9 1144.4 C1556.5 1140.8 1564.4 1139.4 1571.3 1139.6 C1578.2 1139.9 1582.7 1141.7 1587.3 1146 C1591.8 1150.2 1595.5 1158.2 1598.4 1165.1 C1601.3 1172 1603.5 1180.4 1604.8 1187.4 C1606.1 1194.4 1606.1 1203.8 1606.4 1207.1" stroke-width="1.1"/>
<path d="M1190.8 1211.3 C1202.2 1213.4 1237.2 1220.7 1259.2 1224 C1281.3 1227.4 1304.4 1231 1322.9 1231.3 C1341.5 1231.7 1355.3 1229.3 1370.7 1226.2 C1386.1 1223.2 1399.9 1218 1415.3 1212.9 C1430.7 1207.7 1447.7 1201.2 1463.1 1195.4 C1478.5 1189.5 1494.4 1182.6 1507.6 1177.8 C1520.9 1173.1 1533.7 1168.8 1542.7 1166.7 C1551.7 1164.6 1555.9 1163.8 1561.8 1165.1 C1567.6 1166.4 1573.5 1169.9 1577.7 1174.6 C1582 1179.4 1585.1 1187.1 1587.3 1193.8 C1589.4 1200.4 1589.9 1211 1590.4 1214.5" stroke-width="1.1"/>
<path d="M1176.4 1233.6 C1187.6 1235.2 1218.9 1240.7 1243.3 1243.1 C1267.7 1245.5 1301.7 1247.9 1322.9 1247.9 C1344.2 1247.9 1354.8 1245.8 1370.7 1243.1 C1386.6 1240.5 1404.1 1235.2 1418.5 1232 C1432.8 1228.8 1444.5 1225.6 1456.7 1224 C1468.9 1222.4 1481.1 1221.9 1491.7 1222.4 C1502.3 1223 1511.4 1225.2 1520.4 1227.2 C1529.4 1229.2 1541.6 1233.3 1545.9 1234.5" stroke-width="1.1"/>
<path d="M1178 1243.1 C1188.9 1244.4 1219.2 1249.1 1243.3 1251.1 C1267.5 1253 1301.7 1254.9 1322.9 1254.9 C1344.2 1254.9 1354.8 1253.2 1370.7 1251.1 C1386.6 1249 1405.2 1244.3 1418.5 1242.2 C1431.7 1240 1440.8 1238.7 1450.3 1238.3 C1459.9 1238 1468.9 1238.9 1475.8 1239.9 C1482.7 1241 1486.7 1243.1 1491.7 1244.7 C1496.8 1246.3 1503.7 1248.7 1506.1 1249.5" stroke-width="1.1"/>
<path d="M1179.6 1254.3 C1190.2 1255.6 1219.4 1260.1 1243.3 1262.2 C1267.2 1264.4 1301.7 1266.7 1322.9 1267 C1344.2 1267.3 1354.8 1264.9 1370.7 1263.8 C1386.6 1262.8 1406.3 1261.1 1418.5 1260.6 C1430.7 1260.2 1437 1260.6 1443.9 1261.3 C1450.8 1261.9 1457.2 1263.9 1459.9 1264.5" stroke-width="1.1"/>
<path d="M1181.2 1265.4 C1191.6 1266.5 1222.3 1269.4 1243.3 1271.8 C1264.3 1274.2 1288.4 1278.4 1307 1279.7 C1325.6 1281.1 1338.9 1280.3 1354.8 1279.7 C1370.7 1279.2 1390.1 1277.3 1402.5 1276.6 C1415 1275.8 1425.1 1275.5 1429.6 1275.3" stroke-width="1.1"/>
<path d="M1186 1286.1 C1192.9 1286.9 1212.5 1289 1227.4 1290.9 C1242.3 1292.7 1257.1 1294.9 1275.2 1297.3 C1293.2 1299.6 1325.6 1303.9 1335.7 1305.2" stroke-width="1.1"/>
<path d="M1189.2 1295.7 C1195.5 1296.5 1214.6 1298.3 1227.4 1300.4 C1240.1 1302.6 1254.2 1306 1265.6 1308.4 C1277 1310.8 1290.8 1313.7 1295.9 1314.8" stroke-width="1.1"/>
<path d="M1192.4 1311.6 C1198.2 1311.9 1215.7 1311.9 1227.4 1313.2 C1239.1 1314.5 1256.6 1318.5 1262.4 1319.6" stroke-width="1.1"/>
<path d="M1195.5 1327.5 C1198.7 1327 1208.3 1325.3 1214.6 1324.3 C1221 1323.4 1230.6 1322.2 1233.8 1321.8" stroke-width="1.1"/>
<text x="1319.1" y="1157.1" font-size="27" letter-spacing="1.5" transform="rotate(-13 1319.1 1157.1)" stroke="#000" stroke-width="0.9">435</text>
<text x="1260.2" y="1204.9" font-size="27" letter-spacing="1.5" transform="rotate(5 1260.2 1204.9)" stroke="#000" stroke-width="0.9">440</text>
<text x="1255.4" y="1241.5" font-size="27" letter-spacing="3" transform="rotate(5 1255.4 1241.5)" stroke="#000" stroke-width="0.9">445</text>
<text x="1250.6" y="1287.7" font-size="27" letter-spacing="3" transform="rotate(4 1250.6 1287.7)" stroke="#000" stroke-width="0.9">450</text>
<path d="M1147.8 1119.1 C1152.2 1117.3 1165.3 1112.5 1174.3 1108.5 C1183.3 1104.4 1193.1 1099.1 1201.9 1094.6 C1210.8 1090.2 1216.1 1086.9 1227.4 1081.9 C1238.7 1077 1252.9 1071.8 1269.9 1064.9 C1286.8 1058 1310.9 1047.8 1329.3 1040.5 C1347.7 1033.3 1371.8 1024.6 1380.3 1021.4" stroke-width="1.6"/>
<path d="M1146.6 1116.1 L1152.2 1113.9 L1157.8 1111.8 L1163.4 1109.6 L1168.9 1107.3 L1174.3 1105 L1179.6 1102.4 L1184.9 1099.7 L1190.3 1097 L1195.6 1094.3 L1200.9 1091.6 L1206.2 1088.8 L1211.6 1086 L1217 1083.2 L1222.5 1080.6 L1228 1078.2 L1233.6 1075.8 L1239.2 1073.6 L1244.8 1071.4 L1250.4 1069.2 L1256 1067 L1261.5 1064.8 L1267.1 1062.6 L1272.6 1060.3 L1278.2 1058 L1283.7 1055.8 L1289.3 1053.5 L1294.8 1051.1 L1300.3 1048.8 L1305.9 1046.6 L1311.4 1044.3 L1317 1042 L1322.6 1039.7 L1328.2 1037.5 L1333.8 1035.3 L1339.4 1033.2 L1345 1031 L1350.7 1028.9 L1356.3 1026.8 L1361.9 1024.8 L1367.5 1022.7 L1373.2 1020.6 L1378.8 1018.5" stroke-width="1.6"/>
<circle cx="1162.6" cy="1106.3" r="5" fill="#000" stroke="none"/>
<circle cx="1201.9" cy="1088.3" r="5" fill="#000" stroke="none"/>
<circle cx="1177.5" cy="1076.6" r="2.2" fill="#000" stroke="none"/>
<circle cx="1127.6" cy="989.6" r="2.2" fill="#000" stroke="none"/>
<path d="M1166.9 1114.2 L1173.2 1115" stroke-width="1.6"/>
<path d="M1205.1 1094.6 L1211.5 1095.5" stroke-width="1.6"/>
<path d="M1247.6 1076.6 L1253.9 1077.5" stroke-width="1.6"/>
<path d="M1291.1 1058.1 L1297.5 1059" stroke-width="1.6"/>
<path d="M1332.5 1041.1 L1338.9 1042" stroke-width="1.6"/>
<path d="M1370.7 1025 L1377.1 1025.9" stroke-width="1.6"/>
<path d="M1166.8 1151.1l3 0.9 M1179.8 1181.7l3 0.9 M1174.3 1202.1l3 0.9 M1172.2 1130.7l3 0.9 M1190.7 1141l3 0.9 M1185.2 1161.3l3 0.9 M1196.2 1120.6l3 0.9 M1214.6 1130.8l3 0.9 M1209.2 1151.2l3 0.9 M1220.1 1110.4l3 0.9 M1238.6 1120.6l3 0.9 M1244 1100.2l3 0.9 M1262.5 1110.5l3 0.9 M1268 1090.1l3 0.9 M1286.4 1100.3l3 0.9 M1281 1120.7l3 0.9 M1299.4 1131l3 0.9 M1291.9 1079.9l3 0.9 M1310.4 1090.2l3 0.9 M1304.9 1110.6l3 0.9 M1323.4 1120.8l3 0.9 M1315.8 1069.8l3 0.9 M1334.3 1080l3 0.9 M1328.8 1100.4l3 0.9 M1347.3 1110.6l3 0.9 M1339.8 1059.6l3 0.9 M1358.2 1069.8l3 0.9 M1352.8 1090.2l3 0.9 M1371.2 1100.5l3 0.9 M1363.7 1049.4l3 0.9 M1382.2 1059.7l3 0.9 M1376.7 1080.1l3 0.9 M1395.2 1090.3l3 0.9 M1387.6 1039.3l3 0.9 M1406.1 1049.5l3 0.9 M1400.6 1069.9l3 0.9 M1419.1 1080.2l3 0.9 M1417 1008.7l3 0.9 M1411.6 1029.1l3 0.9 M1430 1039.4l3 0.9 M1424.6 1059.8l3 0.9 M1441 998.6l3 0.9 M1435.5 1019l3 0.9 M1454 1029.2l3 0.9 M1448.5 1049.6l3 0.9 M1464.9 988.4l3 0.9 M1459.4 1008.8l3 0.9 M1477.9 1019l3 0.9 M1472.4 1039.4l3 0.9 M1488.8 978.3l3 0.9 M1483.4 998.6l3 0.9 M1501.8 1008.9l3 0.9 M1496.4 1029.3l3 0.9 M1494.3 957.9l3 0.9 M1512.8 968.1l3 0.9 M1507.3 988.5l3 0.9 M1525.8 998.7l3 0.9 M1520.3 1019.1l3 0.9 M1518.2 947.7l3 0.9 M1536.7 957.9l3 0.9 M1531.2 978.3l3 0.9 M1549.7 988.6l3 0.9 M1542.2 937.5l3 0.9 M1560.6 947.8l3 0.9 M1555.2 968.2l3 0.9 M1566.1 927.4l3 0.9 M1584.6 937.6l3 0.9 M1579.1 958l3 0.9 M1590 917.2l3 0.9 M1608.5 927.5l3 0.9 M1614 907.1l3 0.9 M1637.9 896.9l3 0.9" stroke-width="1.9"/>
<path d="M1574.1 984.4 C1576.2 984.5 1582.5 984.8 1586.8 985.2 C1591.2 985.6 1597.8 986.6 1600 986.9" stroke-width="2.4"/>
<path d="M1756.7 888.8 C1758.1 894.8 1764.5 913.6 1765.2 924.9 C1765.9 936.2 1763.1 946.2 1760.9 956.8 C1758.8 967.4 1754.2 978.7 1752.4 988.6 C1750.7 998.5 1749.3 1008.4 1750.3 1016.2 C1751.4 1024 1757.4 1032.1 1758.8 1035.3" stroke-width="1.1"/>
<path d="M1184.7 220.7 L1161.8 278" stroke-width="1.1"/>
<text x="1135.5" y="321.5" font-size="29" transform="rotate(-67.4 1135.5 321.5)" textLength="94.2" lengthAdjust="spacing" stroke="#000" stroke-width="0.5">+31,2</text>
<path d="M1547.8 219.7 L1615.3 245.5" stroke-width="1.1"/>
<text x="1613.4" y="237.4" font-size="29" transform="rotate(23.1 1613.4 237.4)" textLength="90.2" lengthAdjust="spacing" stroke="#000" stroke-width="0.5">-48,0</text>
<path d="M2431.4 220 L2412.7 264.3" stroke-width="1.1"/>
<text x="2383.5" y="315.8" font-size="29" transform="rotate(-63.6 2383.5 315.8)" textLength="84.2" lengthAdjust="spacing" stroke="#000" stroke-width="0.5">+31,3</text>
<path d="M3681.2 217.7 L3658.6 271.8" stroke-width="1.1"/>
<text x="3633.4" y="317.3" font-size="29" transform="rotate(-68.9 3633.4 317.3)" textLength="89.5" lengthAdjust="spacing" stroke="#000" stroke-width="0.5">+31,4</text>
<path d="M665 1537.3 L684.3 1492.5" stroke-width="1.1"/>
<text x="660.6" y="1534.1" font-size="29" transform="rotate(-66 660.6 1534.1)" textLength="79.3" lengthAdjust="spacing" stroke="#000" stroke-width="0.5">+31,2</text>
<path d="M1752.3 1507.5 L1816.3 1533" stroke-width="1.1"/>
<text x="1736.6" y="1493.6" font-size="29" transform="rotate(21.9 1736.6 1493.6)" textLength="88.5" lengthAdjust="spacing" stroke="#000" stroke-width="0.5">-48,1</text>
<path d="M1915.8 1535.2 L1931.6 1490.4" stroke-width="1.1"/>
<text x="1908.4" y="1529.5" font-size="29" transform="rotate(-67.6 1908.4 1529.5)" textLength="83.3" lengthAdjust="spacing" stroke="#000" stroke-width="0.5">+31,3</text>
<path d="M3161.9 1531 L3181.1 1484" stroke-width="1.1"/>
<text x="3153.7" y="1527.4" font-size="29" transform="rotate(-68.2 3153.7 1527.4)" textLength="85.2" lengthAdjust="spacing" stroke="#000" stroke-width="0.5">+31,4</text>
<path d="M4111.6 1177.7 L4151.7 1190.2" stroke-width="1.1"/>
<text x="4046.5" y="1146.5" font-size="29" transform="rotate(22.6 4046.5 1146.5)" textLength="99.6" lengthAdjust="spacing" stroke="#000" stroke-width="0.5">-48,0</text>
<path d="M437.8 1017.7 L483.7 1034.3" stroke-width="1.1"/>
<text x="441.6" y="1010.8" font-size="29" transform="rotate(21.3 441.6 1010.8)" textLength="88.8" lengthAdjust="spacing" stroke="#000" stroke-width="0.5">-48,1</text>
<path d="M1703.8 842.8 L1714.7 836.5 L1721 841.5 L1723 861.9 L1714.7 860.7 L1710.9 849.8Z" fill="#000" stroke="none"/>
<path d="M1743.3 836.5 L1752.9 834.5 L1759.3 841.5 L1759.9 849.2 L1747.8 851.1 L1744 845.4Z" fill="#000" stroke="none"/>
<path d="M1721.7 836.5 L1727.4 861.9" stroke-width="6"/>
<path d="M1721.7 836.5 L1727.4 861.9" stroke="#fff" stroke-width="2.2" stroke-dasharray="2.2 4"/>
<path d="M1742.7 821.2 L1759.9 849.2" stroke-width="6"/>
<path d="M1742.7 821.2 L1759.9 849.2" stroke="#fff" stroke-width="2.2" stroke-dasharray="2.2 4"/>
<path d="M1681.5 845.4 L1684.7 842.6 L1688.2 845.4 L1684.7 848.6 L1681.5 845.4"/>
<text x="1725.5" y="851.7" font-size="24" stroke="#000" stroke-width="0.9">2</text>
<text x="1763.1" y="851.1" font-size="22" stroke="#000" stroke-width="0.9">i</text>
<path d="M1793.7 797.6 L1850 806.1" stroke-width="1.4"/>
<path d="M1819.2 807.1 L1810.2 880" stroke-width="1" stroke-dasharray="14 3 2 3"/>
<path d="M1682.8 856.8 C1687.1 857.5 1700.9 858.3 1708.3 860.7 C1715.7 863 1723 867.6 1727.4 870.9 C1731.9 874.1 1733.8 878.5 1735.1 880" stroke-width="2.4"/>
<path d="M1727.4 856.8 C1730 858.3 1738 861.9 1742.7 865.8 C1747.4 869.6 1753.3 877.7 1755.5 880" stroke-width="2.4"/>
<path d="M1685.4 848.2 L1666.3 880" stroke-width="1.1"/>
<path d="M1750.4 851.1 L1769.5 880" stroke-width="1.6"/>
</svg>
</body></html>
